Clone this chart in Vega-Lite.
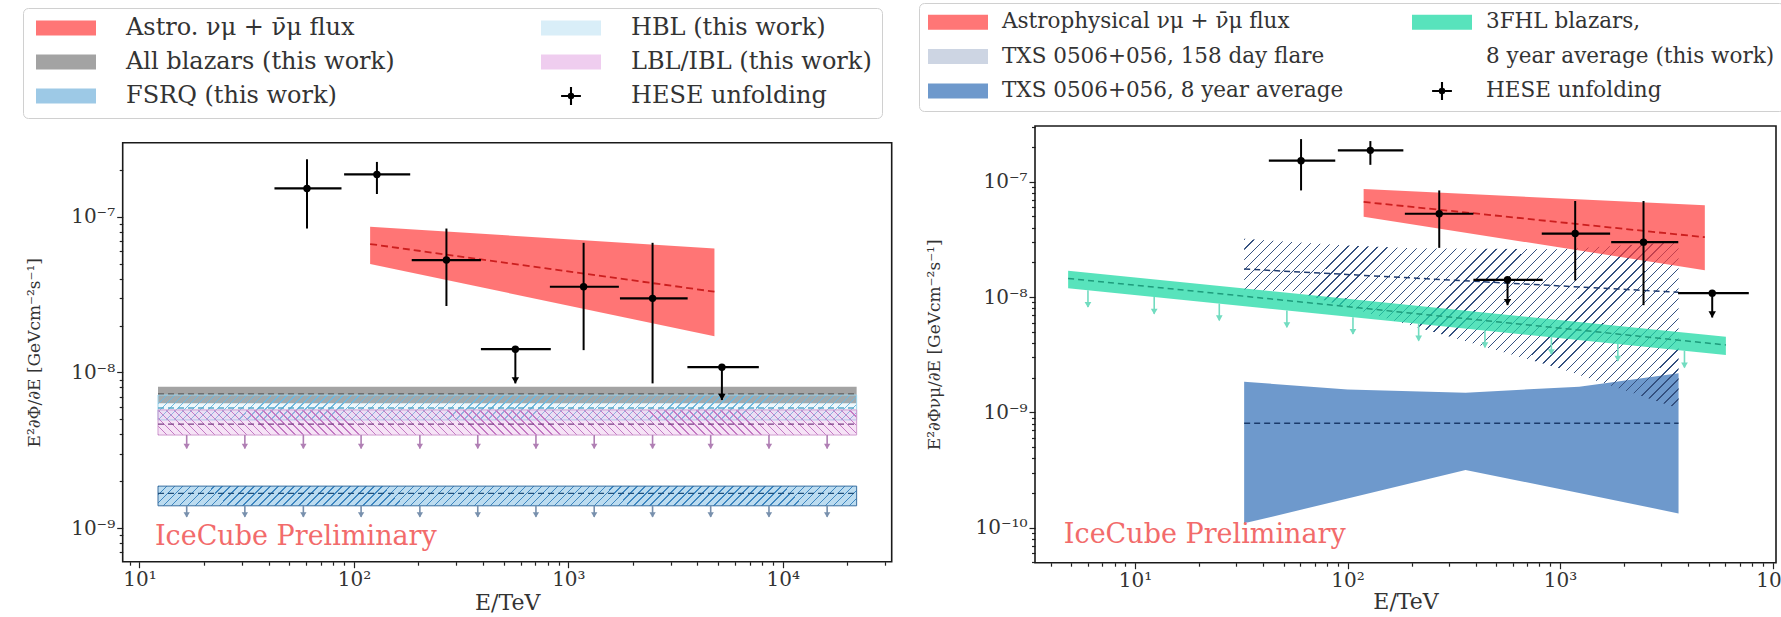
{
  "$schema": "https://vega.github.io/schema/vega-lite/v6.json",
  "background": "white",
  "width": 1781,
  "height": 617,
  "autosize": {"type": "none"},
  "padding": 0,
  "config": {
    "font": "DejaVu Serif",
    "view": {"stroke": null},
    "axis": {"grid": false, "domain": false, "labelFont": "DejaVu Serif", "labelFontSize": 20, "labelColor": "#333333", "titleFont": "DejaVu Serif", "titleFontWeight": "normal", "titleColor": "#333333", "tickColor": "#222222", "tickWidth": 1.2, "labelOverlap": false, "labelFlush": false, "labelPadding": 2}
  },
  "datasets": {
    "hese": [
      {"E": 60.4, "Elo": 42.6, "Ehi": 87.5, "F": 1.52e-7, "Flo": 8.4e-8, "Fhi": 2.34e-7, "ul": false},
      {"E": 128, "Elo": 90, "Ehi": 183, "F": 1.87e-7, "Flo": 1.4e-7, "Fhi": 2.25e-7, "ul": false},
      {"E": 270, "Elo": 186, "Ehi": 391, "F": 5.27e-8, "Flo": 2.67e-8, "Fhi": 8.4e-8, "ul": false},
      {"E": 566, "Elo": 391, "Ehi": 828, "F": 1.41e-8, "Flo": 8.5e-9, "Fhi": 1.41e-8, "ul": true},
      {"E": 1178, "Elo": 820, "Ehi": 1720, "F": 3.55e-8, "Flo": 1.39e-8, "Fhi": 6.8e-8, "ul": false},
      {"E": 2470, "Elo": 1740, "Ehi": 3600, "F": 2.99e-8, "Flo": 8.5e-9, "Fhi": 6.8e-8, "ul": false},
      {"E": 5200, "Elo": 3590, "Ehi": 7730, "F": 1.08e-8, "Flo": 6.65e-9, "Fhi": 1.08e-8, "ul": true}
    ],
    "astro": [
      {"E": 119, "lo": 4.97e-8, "hi": 8.63e-8, "mid": 6.68e-8},
      {"E": 4800, "lo": 1.71e-8, "hi": 6.26e-8, "mid": 3.3e-8}
    ],
    "lbands": [
      {"s": "all", "E": 12.2, "lo": 6.33e-9, "hi": 8.09e-9, "mid": 7.3e-9},
      {"s": "all", "E": 22100, "lo": 6.33e-9, "hi": 8.09e-9, "mid": 7.3e-9},
      {"s": "hbl", "E": 12.2, "lo": 4.95e-9, "hi": 7.16e-9, "mid": 5.9e-9},
      {"s": "hbl", "E": 22100, "lo": 4.95e-9, "hi": 7.16e-9, "mid": 5.9e-9},
      {"s": "lbl", "E": 12.2, "lo": 3.96e-9, "hi": 5.74e-9, "mid": 4.65e-9},
      {"s": "lbl", "E": 22100, "lo": 3.96e-9, "hi": 5.74e-9, "mid": 4.65e-9},
      {"s": "fsrq", "E": 12.2, "lo": 1.39e-9, "hi": 1.86e-9, "mid": 1.67e-9},
      {"s": "fsrq", "E": 22100, "lo": 1.39e-9, "hi": 1.86e-9, "mid": 1.67e-9}
    ],
    "larrows": [
      {"s": "lbl", "E": 16.6, "from": 3.96e-9, "to": 3.25e-9},
      {"s": "lbl", "E": 31.0, "from": 3.96e-9, "to": 3.25e-9},
      {"s": "lbl", "E": 58.1, "from": 3.96e-9, "to": 3.25e-9},
      {"s": "lbl", "E": 108, "from": 3.96e-9, "to": 3.25e-9},
      {"s": "lbl", "E": 203, "from": 3.96e-9, "to": 3.25e-9},
      {"s": "lbl", "E": 378, "from": 3.96e-9, "to": 3.25e-9},
      {"s": "lbl", "E": 706, "from": 3.96e-9, "to": 3.25e-9},
      {"s": "lbl", "E": 1320, "from": 3.96e-9, "to": 3.25e-9},
      {"s": "lbl", "E": 2470, "from": 3.96e-9, "to": 3.25e-9},
      {"s": "lbl", "E": 4610, "from": 3.96e-9, "to": 3.25e-9},
      {"s": "lbl", "E": 8620, "from": 3.96e-9, "to": 3.25e-9},
      {"s": "lbl", "E": 16100, "from": 3.96e-9, "to": 3.25e-9},
      {"s": "fsrq", "E": 16.6, "from": 1.39e-9, "to": 1.18e-9},
      {"s": "fsrq", "E": 31.0, "from": 1.39e-9, "to": 1.18e-9},
      {"s": "fsrq", "E": 58.1, "from": 1.39e-9, "to": 1.18e-9},
      {"s": "fsrq", "E": 108, "from": 1.39e-9, "to": 1.18e-9},
      {"s": "fsrq", "E": 203, "from": 1.39e-9, "to": 1.18e-9},
      {"s": "fsrq", "E": 378, "from": 1.39e-9, "to": 1.18e-9},
      {"s": "fsrq", "E": 706, "from": 1.39e-9, "to": 1.18e-9},
      {"s": "fsrq", "E": 1320, "from": 1.39e-9, "to": 1.18e-9},
      {"s": "fsrq", "E": 2470, "from": 1.39e-9, "to": 1.18e-9},
      {"s": "fsrq", "E": 4610, "from": 1.39e-9, "to": 1.18e-9},
      {"s": "fsrq", "E": 8620, "from": 1.39e-9, "to": 1.18e-9},
      {"s": "fsrq", "E": 16100, "from": 1.39e-9, "to": 1.18e-9}
    ],
    "txs8": [
      {"E": 32.6, "lo": 1.09e-10, "hi": 1.84e-9, "mid": 8.03e-10},
      {"E": 100, "lo": 1.79e-10, "hi": 1.58e-9, "mid": 8.03e-10},
      {"E": 359, "lo": 3.16e-10, "hi": 1.48e-9, "mid": 8.03e-10},
      {"E": 1230, "lo": 2.0e-10, "hi": 1.67e-9, "mid": 8.03e-10},
      {"E": 3610, "lo": 1.33e-10, "hi": 2.18e-9, "mid": 8.03e-10}
    ],
    "flare": [
      {"E": 32.6, "lo": 1.15e-8, "hi": 3.2e-8, "mid": 1.75e-8},
      {"E": 55, "lo": 1.12e-8, "hi": 3.0e-8},
      {"E": 100, "lo": 8.2e-9, "hi": 2.8e-8},
      {"E": 203, "lo": 5.6e-9, "hi": 2.65e-8},
      {"E": 1000, "lo": 2.4e-9, "hi": 2.6e-8},
      {"E": 3610, "lo": 1.08e-9, "hi": 3.0e-8, "mid": 1.1e-8}
    ],
    "fhl": [
      {"E": 4.84, "lo": 1.19e-8, "hi": 1.69e-8, "mid": 1.45e-8},
      {"E": 6030, "lo": 3.14e-9, "hi": 4.53e-9, "mid": 3.84e-9}
    ],
    "fhlarrows": [
      {"E": 6.0, "from": 1.145e-8, "to": 8.2e-9},
      {"E": 12.3, "from": 1.0e-8, "to": 7.17e-9},
      {"E": 24.9, "from": 8.78e-9, "to": 6.29e-9},
      {"E": 51.8, "from": 7.65e-9, "to": 5.48e-9},
      {"E": 106, "from": 6.69e-9, "to": 4.79e-9},
      {"E": 216, "from": 5.86e-9, "to": 4.2e-9},
      {"E": 443, "from": 5.12e-9, "to": 3.67e-9},
      {"E": 910, "from": 4.48e-9, "to": 3.2e-9},
      {"E": 1870, "from": 3.91e-9, "to": 2.8e-9},
      {"E": 3850, "from": 3.42e-9, "to": 2.45e-9}
    ],
    "wmL": [{"E": 11.8, "F": 8.8e-10, "t": "IceCube Preliminary"}],
    "wmR": [{"E": 4.62, "F": 8.6e-11, "t": "IceCube Preliminary"}],
    "leg": [{"k": "none"}]
  },
  "resolve": {
    "scale": {"x": "independent", "y": "independent", "color": "independent", "shape": "independent"},
    "axis": {"x": "independent", "y": "independent"},
    "legend": {"color": "independent", "shape": "independent"}
  },
  "layer": [
    {
      "layer": [
        {
          "data": {"name": "astro"},
          "mark": {"type": "area", "fill": "#ff3b3b", "opacity": 0.7},
          "encoding": {
            "x": {"field": "E", "type": "quantitative",
              "scale": {"type": "log", "domain": [8.35, 32200], "range": [122.7, 891.7], "nice": false, "zero": false},
              "axis": {"orient": "bottom", "offset": -55.3, "title": "E/TeV", "titleFontSize": 22, "titleY": 41, "titleBaseline": "middle",
                "values": [9,10,20,30,40,50,60,70,80,90,100,200,300,400,500,600,700,800,900,1000,2000,3000,4000,5000,6000,7000,8000,9000,10000,20000,30000],
                "labelExpr": "abs(log(datum.value)/LN10 - round(log(datum.value)/LN10)) < 0.01 ? '10' + ['⁻¹⁰','⁻⁹','⁻⁸','⁻⁷','⁻⁶','⁻⁵','⁻⁴','⁻³','⁻²','⁻¹','⁰','¹','²','³','⁴','⁵'][round(log(datum.value)/LN10)+10] : ''",
                "tickSize": {"condition": {"test": "abs(log(datum.value)/LN10 - round(log(datum.value)/LN10)) < 0.01", "value": 6}, "value": 3.5}}},
            "y": {"field": "lo", "type": "quantitative",
              "scale": {"type": "log", "domain": [6.08e-10, 2.99e-7], "range": [561.7, 142.7], "nice": false, "zero": false},
              "axis": {"orient": "left", "offset": -122.7, "title": "E²∂Φ/∂E [GeVcm⁻²s⁻¹]", "titleFontSize": 17, "titleX": -88, "titleBaseline": "middle",
                "values": [7e-10,8e-10,9e-10,1e-9,2e-9,3e-9,4e-9,5e-9,6e-9,7e-9,8e-9,9e-9,1e-8,2e-8,3e-8,4e-8,5e-8,6e-8,7e-8,8e-8,9e-8,1e-7,2e-7],
                "labelExpr": "abs(log(datum.value)/LN10 - round(log(datum.value)/LN10)) < 0.01 ? '10' + ['⁻¹⁰','⁻⁹','⁻⁸','⁻⁷','⁻⁶','⁻⁵','⁻⁴','⁻³','⁻²','⁻¹','⁰','¹','²','³','⁴','⁵'][round(log(datum.value)/LN10)+10] : ''",
                "tickSize": {"condition": {"test": "abs(log(datum.value)/LN10 - round(log(datum.value)/LN10)) < 0.01", "value": 6}, "value": 3.5}}},
            "y2": {"field": "hi"}
          }
        },
        {
          "data": {"name": "astro"},
          "mark": {"type": "line", "color": "#cc1f1f", "strokeDash": [7, 4], "strokeWidth": 1.8},
          "encoding": {"x": {"field": "E", "type": "quantitative"}, "y": {"field": "mid", "type": "quantitative"}}
        },
        {
          "data": {"name": "lbands"},
          "transform": [{"filter": "datum.s === 'all'"}],
          "mark": {"type": "area", "fill": "#a3a3a3", "opacity": 1},
          "encoding": {"x": {"field": "E", "type": "quantitative"}, "y": {"field": "lo", "type": "quantitative"}, "y2": {"field": "hi"}}
        },
        {
          "data": {"name": "lbands"},
          "transform": [{"filter": "datum.s === 'hbl'"}],
          "mark": {"type": "area", "opacity": 1, "stroke": "#9fd3ea", "strokeWidth": 1,
            "fill": {"gradient": "linear", "x1": 0, "y1": 0, "x2": 1.0343, "y2": 0.03684, "stops": [
{"offset":0,"color":"#6fb8de"},{"offset":0.002,"color":"#6fb8de"},{"offset":0.002,"color":"rgba(140,205,235,0.15)"},{"offset":0.01111,"color":"rgba(140,205,235,0.15)"},
{"offset":0.01111,"color":"#6fb8de"},{"offset":0.01311,"color":"#6fb8de"},{"offset":0.01311,"color":"rgba(140,205,235,0.15)"},{"offset":0.02222,"color":"rgba(140,205,235,0.15)"},
{"offset":0.02222,"color":"#6fb8de"},{"offset":0.02422,"color":"#6fb8de"},{"offset":0.02422,"color":"rgba(140,205,235,0.15)"},{"offset":0.03333,"color":"rgba(140,205,235,0.15)"},
{"offset":0.03333,"color":"#6fb8de"},{"offset":0.03533,"color":"#6fb8de"},{"offset":0.03533,"color":"rgba(140,205,235,0.15)"},{"offset":0.04444,"color":"rgba(140,205,235,0.15)"},
{"offset":0.04444,"color":"#6fb8de"},{"offset":0.04644,"color":"#6fb8de"},{"offset":0.04644,"color":"rgba(140,205,235,0.15)"},{"offset":0.05556,"color":"rgba(140,205,235,0.15)"},
{"offset":0.05556,"color":"#6fb8de"},{"offset":0.05756,"color":"#6fb8de"},{"offset":0.05756,"color":"rgba(140,205,235,0.15)"},{"offset":0.06667,"color":"rgba(140,205,235,0.15)"},
{"offset":0.06667,"color":"#6fb8de"},{"offset":0.06867,"color":"#6fb8de"},{"offset":0.06867,"color":"rgba(140,205,235,0.15)"},{"offset":0.07778,"color":"rgba(140,205,235,0.15)"},
{"offset":0.07778,"color":"#6fb8de"},{"offset":0.07978,"color":"#6fb8de"},{"offset":0.07978,"color":"rgba(140,205,235,0.15)"},{"offset":0.08889,"color":"rgba(140,205,235,0.15)"},
{"offset":0.08889,"color":"#6fb8de"},{"offset":0.09089,"color":"#6fb8de"},{"offset":0.09089,"color":"rgba(140,205,235,0.15)"},{"offset":0.1,"color":"rgba(140,205,235,0.15)"},
{"offset":0.1,"color":"#6fb8de"},{"offset":0.102,"color":"#6fb8de"},{"offset":0.102,"color":"rgba(140,205,235,0.15)"},{"offset":0.11111,"color":"rgba(140,205,235,0.15)"},
{"offset":0.11111,"color":"#6fb8de"},{"offset":0.11311,"color":"#6fb8de"},{"offset":0.11311,"color":"rgba(140,205,235,0.15)"},{"offset":0.12222,"color":"rgba(140,205,235,0.15)"},
{"offset":0.12222,"color":"#6fb8de"},{"offset":0.12422,"color":"#6fb8de"},{"offset":0.12422,"color":"rgba(140,205,235,0.15)"},{"offset":0.13333,"color":"rgba(140,205,235,0.15)"},
{"offset":0.13333,"color":"#6fb8de"},{"offset":0.13533,"color":"#6fb8de"},{"offset":0.13533,"color":"rgba(140,205,235,0.15)"},{"offset":0.14444,"color":"rgba(140,205,235,0.15)"},
{"offset":0.14444,"color":"#6fb8de"},{"offset":0.14644,"color":"#6fb8de"},{"offset":0.14644,"color":"rgba(140,205,235,0.15)"},{"offset":0.15556,"color":"rgba(140,205,235,0.15)"},
{"offset":0.15556,"color":"#6fb8de"},{"offset":0.15756,"color":"#6fb8de"},{"offset":0.15756,"color":"rgba(140,205,235,0.15)"},{"offset":0.16667,"color":"rgba(140,205,235,0.15)"},
{"offset":0.16667,"color":"#6fb8de"},{"offset":0.16867,"color":"#6fb8de"},{"offset":0.16867,"color":"rgba(140,205,235,0.15)"},{"offset":0.17778,"color":"rgba(140,205,235,0.15)"},
{"offset":0.17778,"color":"#6fb8de"},{"offset":0.17978,"color":"#6fb8de"},{"offset":0.17978,"color":"rgba(140,205,235,0.15)"},{"offset":0.18889,"color":"rgba(140,205,235,0.15)"},
{"offset":0.18889,"color":"#6fb8de"},{"offset":0.19089,"color":"#6fb8de"},{"offset":0.19089,"color":"rgba(140,205,235,0.15)"},{"offset":0.2,"color":"rgba(140,205,235,0.15)"},
{"offset":0.2,"color":"#6fb8de"},{"offset":0.202,"color":"#6fb8de"},{"offset":0.202,"color":"rgba(140,205,235,0.15)"},{"offset":0.21111,"color":"rgba(140,205,235,0.15)"},
{"offset":0.21111,"color":"#6fb8de"},{"offset":0.21311,"color":"#6fb8de"},{"offset":0.21311,"color":"rgba(140,205,235,0.15)"},{"offset":0.22222,"color":"rgba(140,205,235,0.15)"},
{"offset":0.22222,"color":"#6fb8de"},{"offset":0.22422,"color":"#6fb8de"},{"offset":0.22422,"color":"rgba(140,205,235,0.15)"},{"offset":0.23333,"color":"rgba(140,205,235,0.15)"},
{"offset":0.23333,"color":"#6fb8de"},{"offset":0.23533,"color":"#6fb8de"},{"offset":0.23533,"color":"rgba(140,205,235,0.15)"},{"offset":0.24444,"color":"rgba(140,205,235,0.15)"},
{"offset":0.24444,"color":"#6fb8de"},{"offset":0.24644,"color":"#6fb8de"},{"offset":0.24644,"color":"rgba(140,205,235,0.15)"},{"offset":0.25556,"color":"rgba(140,205,235,0.15)"},
{"offset":0.25556,"color":"#6fb8de"},{"offset":0.25756,"color":"#6fb8de"},{"offset":0.25756,"color":"rgba(140,205,235,0.15)"},{"offset":0.26667,"color":"rgba(140,205,235,0.15)"},
{"offset":0.26667,"color":"#6fb8de"},{"offset":0.26867,"color":"#6fb8de"},{"offset":0.26867,"color":"rgba(140,205,235,0.15)"},{"offset":0.27778,"color":"rgba(140,205,235,0.15)"},
{"offset":0.27778,"color":"#6fb8de"},{"offset":0.27978,"color":"#6fb8de"},{"offset":0.27978,"color":"rgba(140,205,235,0.15)"},{"offset":0.28889,"color":"rgba(140,205,235,0.15)"},
{"offset":0.28889,"color":"#6fb8de"},{"offset":0.29089,"color":"#6fb8de"},{"offset":0.29089,"color":"rgba(140,205,235,0.15)"},{"offset":0.3,"color":"rgba(140,205,235,0.15)"},
{"offset":0.3,"color":"#6fb8de"},{"offset":0.302,"color":"#6fb8de"},{"offset":0.302,"color":"rgba(140,205,235,0.15)"},{"offset":0.31111,"color":"rgba(140,205,235,0.15)"},
{"offset":0.31111,"color":"#6fb8de"},{"offset":0.31311,"color":"#6fb8de"},{"offset":0.31311,"color":"rgba(140,205,235,0.15)"},{"offset":0.32222,"color":"rgba(140,205,235,0.15)"},
{"offset":0.32222,"color":"#6fb8de"},{"offset":0.32422,"color":"#6fb8de"},{"offset":0.32422,"color":"rgba(140,205,235,0.15)"},{"offset":0.33333,"color":"rgba(140,205,235,0.15)"},
{"offset":0.33333,"color":"#6fb8de"},{"offset":0.33533,"color":"#6fb8de"},{"offset":0.33533,"color":"rgba(140,205,235,0.15)"},{"offset":0.34444,"color":"rgba(140,205,235,0.15)"},
{"offset":0.34444,"color":"#6fb8de"},{"offset":0.34644,"color":"#6fb8de"},{"offset":0.34644,"color":"rgba(140,205,235,0.15)"},{"offset":0.35556,"color":"rgba(140,205,235,0.15)"},
{"offset":0.35556,"color":"#6fb8de"},{"offset":0.35756,"color":"#6fb8de"},{"offset":0.35756,"color":"rgba(140,205,235,0.15)"},{"offset":0.36667,"color":"rgba(140,205,235,0.15)"},
{"offset":0.36667,"color":"#6fb8de"},{"offset":0.36867,"color":"#6fb8de"},{"offset":0.36867,"color":"rgba(140,205,235,0.15)"},{"offset":0.37778,"color":"rgba(140,205,235,0.15)"},
{"offset":0.37778,"color":"#6fb8de"},{"offset":0.37978,"color":"#6fb8de"},{"offset":0.37978,"color":"rgba(140,205,235,0.15)"},{"offset":0.38889,"color":"rgba(140,205,235,0.15)"},
{"offset":0.38889,"color":"#6fb8de"},{"offset":0.39089,"color":"#6fb8de"},{"offset":0.39089,"color":"rgba(140,205,235,0.15)"},{"offset":0.4,"color":"rgba(140,205,235,0.15)"},
{"offset":0.4,"color":"#6fb8de"},{"offset":0.402,"color":"#6fb8de"},{"offset":0.402,"color":"rgba(140,205,235,0.15)"},{"offset":0.41111,"color":"rgba(140,205,235,0.15)"},
{"offset":0.41111,"color":"#6fb8de"},{"offset":0.41311,"color":"#6fb8de"},{"offset":0.41311,"color":"rgba(140,205,235,0.15)"},{"offset":0.42222,"color":"rgba(140,205,235,0.15)"},
{"offset":0.42222,"color":"#6fb8de"},{"offset":0.42422,"color":"#6fb8de"},{"offset":0.42422,"color":"rgba(140,205,235,0.15)"},{"offset":0.43333,"color":"rgba(140,205,235,0.15)"},
{"offset":0.43333,"color":"#6fb8de"},{"offset":0.43533,"color":"#6fb8de"},{"offset":0.43533,"color":"rgba(140,205,235,0.15)"},{"offset":0.44444,"color":"rgba(140,205,235,0.15)"},
{"offset":0.44444,"color":"#6fb8de"},{"offset":0.44644,"color":"#6fb8de"},{"offset":0.44644,"color":"rgba(140,205,235,0.15)"},{"offset":0.45556,"color":"rgba(140,205,235,0.15)"},
{"offset":0.45556,"color":"#6fb8de"},{"offset":0.45756,"color":"#6fb8de"},{"offset":0.45756,"color":"rgba(140,205,235,0.15)"},{"offset":0.46667,"color":"rgba(140,205,235,0.15)"},
{"offset":0.46667,"color":"#6fb8de"},{"offset":0.46867,"color":"#6fb8de"},{"offset":0.46867,"color":"rgba(140,205,235,0.15)"},{"offset":0.47778,"color":"rgba(140,205,235,0.15)"},
{"offset":0.47778,"color":"#6fb8de"},{"offset":0.47978,"color":"#6fb8de"},{"offset":0.47978,"color":"rgba(140,205,235,0.15)"},{"offset":0.48889,"color":"rgba(140,205,235,0.15)"},
{"offset":0.48889,"color":"#6fb8de"},{"offset":0.49089,"color":"#6fb8de"},{"offset":0.49089,"color":"rgba(140,205,235,0.15)"},{"offset":0.5,"color":"rgba(140,205,235,0.15)"},
{"offset":0.5,"color":"#6fb8de"},{"offset":0.502,"color":"#6fb8de"},{"offset":0.502,"color":"rgba(140,205,235,0.15)"},{"offset":0.51111,"color":"rgba(140,205,235,0.15)"},
{"offset":0.51111,"color":"#6fb8de"},{"offset":0.51311,"color":"#6fb8de"},{"offset":0.51311,"color":"rgba(140,205,235,0.15)"},{"offset":0.52222,"color":"rgba(140,205,235,0.15)"},
{"offset":0.52222,"color":"#6fb8de"},{"offset":0.52422,"color":"#6fb8de"},{"offset":0.52422,"color":"rgba(140,205,235,0.15)"},{"offset":0.53333,"color":"rgba(140,205,235,0.15)"},
{"offset":0.53333,"color":"#6fb8de"},{"offset":0.53533,"color":"#6fb8de"},{"offset":0.53533,"color":"rgba(140,205,235,0.15)"},{"offset":0.54444,"color":"rgba(140,205,235,0.15)"},
{"offset":0.54444,"color":"#6fb8de"},{"offset":0.54644,"color":"#6fb8de"},{"offset":0.54644,"color":"rgba(140,205,235,0.15)"},{"offset":0.55556,"color":"rgba(140,205,235,0.15)"},
{"offset":0.55556,"color":"#6fb8de"},{"offset":0.55756,"color":"#6fb8de"},{"offset":0.55756,"color":"rgba(140,205,235,0.15)"},{"offset":0.56667,"color":"rgba(140,205,235,0.15)"},
{"offset":0.56667,"color":"#6fb8de"},{"offset":0.56867,"color":"#6fb8de"},{"offset":0.56867,"color":"rgba(140,205,235,0.15)"},{"offset":0.57778,"color":"rgba(140,205,235,0.15)"},
{"offset":0.57778,"color":"#6fb8de"},{"offset":0.57978,"color":"#6fb8de"},{"offset":0.57978,"color":"rgba(140,205,235,0.15)"},{"offset":0.58889,"color":"rgba(140,205,235,0.15)"},
{"offset":0.58889,"color":"#6fb8de"},{"offset":0.59089,"color":"#6fb8de"},{"offset":0.59089,"color":"rgba(140,205,235,0.15)"},{"offset":0.6,"color":"rgba(140,205,235,0.15)"},
{"offset":0.6,"color":"#6fb8de"},{"offset":0.602,"color":"#6fb8de"},{"offset":0.602,"color":"rgba(140,205,235,0.15)"},{"offset":0.61111,"color":"rgba(140,205,235,0.15)"},
{"offset":0.61111,"color":"#6fb8de"},{"offset":0.61311,"color":"#6fb8de"},{"offset":0.61311,"color":"rgba(140,205,235,0.15)"},{"offset":0.62222,"color":"rgba(140,205,235,0.15)"},
{"offset":0.62222,"color":"#6fb8de"},{"offset":0.62422,"color":"#6fb8de"},{"offset":0.62422,"color":"rgba(140,205,235,0.15)"},{"offset":0.63333,"color":"rgba(140,205,235,0.15)"},
{"offset":0.63333,"color":"#6fb8de"},{"offset":0.63533,"color":"#6fb8de"},{"offset":0.63533,"color":"rgba(140,205,235,0.15)"},{"offset":0.64444,"color":"rgba(140,205,235,0.15)"},
{"offset":0.64444,"color":"#6fb8de"},{"offset":0.64644,"color":"#6fb8de"},{"offset":0.64644,"color":"rgba(140,205,235,0.15)"},{"offset":0.65556,"color":"rgba(140,205,235,0.15)"},
{"offset":0.65556,"color":"#6fb8de"},{"offset":0.65756,"color":"#6fb8de"},{"offset":0.65756,"color":"rgba(140,205,235,0.15)"},{"offset":0.66667,"color":"rgba(140,205,235,0.15)"},
{"offset":0.66667,"color":"#6fb8de"},{"offset":0.66867,"color":"#6fb8de"},{"offset":0.66867,"color":"rgba(140,205,235,0.15)"},{"offset":0.67778,"color":"rgba(140,205,235,0.15)"},
{"offset":0.67778,"color":"#6fb8de"},{"offset":0.67978,"color":"#6fb8de"},{"offset":0.67978,"color":"rgba(140,205,235,0.15)"},{"offset":0.68889,"color":"rgba(140,205,235,0.15)"},
{"offset":0.68889,"color":"#6fb8de"},{"offset":0.69089,"color":"#6fb8de"},{"offset":0.69089,"color":"rgba(140,205,235,0.15)"},{"offset":0.7,"color":"rgba(140,205,235,0.15)"},
{"offset":0.7,"color":"#6fb8de"},{"offset":0.702,"color":"#6fb8de"},{"offset":0.702,"color":"rgba(140,205,235,0.15)"},{"offset":0.71111,"color":"rgba(140,205,235,0.15)"},
{"offset":0.71111,"color":"#6fb8de"},{"offset":0.71311,"color":"#6fb8de"},{"offset":0.71311,"color":"rgba(140,205,235,0.15)"},{"offset":0.72222,"color":"rgba(140,205,235,0.15)"},
{"offset":0.72222,"color":"#6fb8de"},{"offset":0.72422,"color":"#6fb8de"},{"offset":0.72422,"color":"rgba(140,205,235,0.15)"},{"offset":0.73333,"color":"rgba(140,205,235,0.15)"},
{"offset":0.73333,"color":"#6fb8de"},{"offset":0.73533,"color":"#6fb8de"},{"offset":0.73533,"color":"rgba(140,205,235,0.15)"},{"offset":0.74444,"color":"rgba(140,205,235,0.15)"},
{"offset":0.74444,"color":"#6fb8de"},{"offset":0.74644,"color":"#6fb8de"},{"offset":0.74644,"color":"rgba(140,205,235,0.15)"},{"offset":0.75556,"color":"rgba(140,205,235,0.15)"},
{"offset":0.75556,"color":"#6fb8de"},{"offset":0.75756,"color":"#6fb8de"},{"offset":0.75756,"color":"rgba(140,205,235,0.15)"},{"offset":0.76667,"color":"rgba(140,205,235,0.15)"},
{"offset":0.76667,"color":"#6fb8de"},{"offset":0.76867,"color":"#6fb8de"},{"offset":0.76867,"color":"rgba(140,205,235,0.15)"},{"offset":0.77778,"color":"rgba(140,205,235,0.15)"},
{"offset":0.77778,"color":"#6fb8de"},{"offset":0.77978,"color":"#6fb8de"},{"offset":0.77978,"color":"rgba(140,205,235,0.15)"},{"offset":0.78889,"color":"rgba(140,205,235,0.15)"},
{"offset":0.78889,"color":"#6fb8de"},{"offset":0.79089,"color":"#6fb8de"},{"offset":0.79089,"color":"rgba(140,205,235,0.15)"},{"offset":0.8,"color":"rgba(140,205,235,0.15)"},
{"offset":0.8,"color":"#6fb8de"},{"offset":0.802,"color":"#6fb8de"},{"offset":0.802,"color":"rgba(140,205,235,0.15)"},{"offset":0.81111,"color":"rgba(140,205,235,0.15)"},
{"offset":0.81111,"color":"#6fb8de"},{"offset":0.81311,"color":"#6fb8de"},{"offset":0.81311,"color":"rgba(140,205,235,0.15)"},{"offset":0.82222,"color":"rgba(140,205,235,0.15)"},
{"offset":0.82222,"color":"#6fb8de"},{"offset":0.82422,"color":"#6fb8de"},{"offset":0.82422,"color":"rgba(140,205,235,0.15)"},{"offset":0.83333,"color":"rgba(140,205,235,0.15)"},
{"offset":0.83333,"color":"#6fb8de"},{"offset":0.83533,"color":"#6fb8de"},{"offset":0.83533,"color":"rgba(140,205,235,0.15)"},{"offset":0.84444,"color":"rgba(140,205,235,0.15)"},
{"offset":0.84444,"color":"#6fb8de"},{"offset":0.84644,"color":"#6fb8de"},{"offset":0.84644,"color":"rgba(140,205,235,0.15)"},{"offset":0.85556,"color":"rgba(140,205,235,0.15)"},
{"offset":0.85556,"color":"#6fb8de"},{"offset":0.85756,"color":"#6fb8de"},{"offset":0.85756,"color":"rgba(140,205,235,0.15)"},{"offset":0.86667,"color":"rgba(140,205,235,0.15)"},
{"offset":0.86667,"color":"#6fb8de"},{"offset":0.86867,"color":"#6fb8de"},{"offset":0.86867,"color":"rgba(140,205,235,0.15)"},{"offset":0.87778,"color":"rgba(140,205,235,0.15)"},
{"offset":0.87778,"color":"#6fb8de"},{"offset":0.87978,"color":"#6fb8de"},{"offset":0.87978,"color":"rgba(140,205,235,0.15)"},{"offset":0.88889,"color":"rgba(140,205,235,0.15)"},
{"offset":0.88889,"color":"#6fb8de"},{"offset":0.89089,"color":"#6fb8de"},{"offset":0.89089,"color":"rgba(140,205,235,0.15)"},{"offset":0.9,"color":"rgba(140,205,235,0.15)"},
{"offset":0.9,"color":"#6fb8de"},{"offset":0.902,"color":"#6fb8de"},{"offset":0.902,"color":"rgba(140,205,235,0.15)"},{"offset":0.91111,"color":"rgba(140,205,235,0.15)"},
{"offset":0.91111,"color":"#6fb8de"},{"offset":0.91311,"color":"#6fb8de"},{"offset":0.91311,"color":"rgba(140,205,235,0.15)"},{"offset":0.92222,"color":"rgba(140,205,235,0.15)"},
{"offset":0.92222,"color":"#6fb8de"},{"offset":0.92422,"color":"#6fb8de"},{"offset":0.92422,"color":"rgba(140,205,235,0.15)"},{"offset":0.93333,"color":"rgba(140,205,235,0.15)"},
{"offset":0.93333,"color":"#6fb8de"},{"offset":0.93533,"color":"#6fb8de"},{"offset":0.93533,"color":"rgba(140,205,235,0.15)"},{"offset":0.94444,"color":"rgba(140,205,235,0.15)"},
{"offset":0.94444,"color":"#6fb8de"},{"offset":0.94644,"color":"#6fb8de"},{"offset":0.94644,"color":"rgba(140,205,235,0.15)"},{"offset":0.95556,"color":"rgba(140,205,235,0.15)"},
{"offset":0.95556,"color":"#6fb8de"},{"offset":0.95756,"color":"#6fb8de"},{"offset":0.95756,"color":"rgba(140,205,235,0.15)"},{"offset":0.96667,"color":"rgba(140,205,235,0.15)"},
{"offset":0.96667,"color":"#6fb8de"},{"offset":0.96867,"color":"#6fb8de"},{"offset":0.96867,"color":"rgba(140,205,235,0.15)"},{"offset":0.97778,"color":"rgba(140,205,235,0.15)"},
{"offset":0.97778,"color":"#6fb8de"},{"offset":0.97978,"color":"#6fb8de"},{"offset":0.97978,"color":"rgba(140,205,235,0.15)"},{"offset":0.98889,"color":"rgba(140,205,235,0.15)"},
{"offset":0.98889,"color":"#6fb8de"},{"offset":0.99089,"color":"#6fb8de"},{"offset":0.99089,"color":"rgba(140,205,235,0.15)"},{"offset":1,"color":"rgba(140,205,235,0.15)"}
            ]}},
          "encoding": {"x": {"field": "E", "type": "quantitative"}, "y": {"field": "lo", "type": "quantitative"}, "y2": {"field": "hi"}}
        },
        {
          "data": {"name": "lbands"},
          "transform": [{"filter": "datum.s === 'lbl'"}],
          "mark": {"type": "area", "opacity": 1, "stroke": "#cf9bcf", "strokeWidth": 1,
            "fill": {"gradient": "linear", "x1": 0, "y1": 1, "x2": 1.0344, "y2": 0.96286, "stops": [
{"offset":0,"color":"#c47ac4"},{"offset":0.002,"color":"#c47ac4"},{"offset":0.002,"color":"rgba(225,160,225,0.3)"},{"offset":0.01111,"color":"rgba(225,160,225,0.3)"},
{"offset":0.01111,"color":"#c47ac4"},{"offset":0.01311,"color":"#c47ac4"},{"offset":0.01311,"color":"rgba(225,160,225,0.3)"},{"offset":0.02222,"color":"rgba(225,160,225,0.3)"},
{"offset":0.02222,"color":"#c47ac4"},{"offset":0.02422,"color":"#c47ac4"},{"offset":0.02422,"color":"rgba(225,160,225,0.3)"},{"offset":0.03333,"color":"rgba(225,160,225,0.3)"},
{"offset":0.03333,"color":"#c47ac4"},{"offset":0.03533,"color":"#c47ac4"},{"offset":0.03533,"color":"rgba(225,160,225,0.3)"},{"offset":0.04444,"color":"rgba(225,160,225,0.3)"},
{"offset":0.04444,"color":"#c47ac4"},{"offset":0.04644,"color":"#c47ac4"},{"offset":0.04644,"color":"rgba(225,160,225,0.3)"},{"offset":0.05556,"color":"rgba(225,160,225,0.3)"},
{"offset":0.05556,"color":"#c47ac4"},{"offset":0.05756,"color":"#c47ac4"},{"offset":0.05756,"color":"rgba(225,160,225,0.3)"},{"offset":0.06667,"color":"rgba(225,160,225,0.3)"},
{"offset":0.06667,"color":"#c47ac4"},{"offset":0.06867,"color":"#c47ac4"},{"offset":0.06867,"color":"rgba(225,160,225,0.3)"},{"offset":0.07778,"color":"rgba(225,160,225,0.3)"},
{"offset":0.07778,"color":"#c47ac4"},{"offset":0.07978,"color":"#c47ac4"},{"offset":0.07978,"color":"rgba(225,160,225,0.3)"},{"offset":0.08889,"color":"rgba(225,160,225,0.3)"},
{"offset":0.08889,"color":"#c47ac4"},{"offset":0.09089,"color":"#c47ac4"},{"offset":0.09089,"color":"rgba(225,160,225,0.3)"},{"offset":0.1,"color":"rgba(225,160,225,0.3)"},
{"offset":0.1,"color":"#c47ac4"},{"offset":0.102,"color":"#c47ac4"},{"offset":0.102,"color":"rgba(225,160,225,0.3)"},{"offset":0.11111,"color":"rgba(225,160,225,0.3)"},
{"offset":0.11111,"color":"#c47ac4"},{"offset":0.11311,"color":"#c47ac4"},{"offset":0.11311,"color":"rgba(225,160,225,0.3)"},{"offset":0.12222,"color":"rgba(225,160,225,0.3)"},
{"offset":0.12222,"color":"#c47ac4"},{"offset":0.12422,"color":"#c47ac4"},{"offset":0.12422,"color":"rgba(225,160,225,0.3)"},{"offset":0.13333,"color":"rgba(225,160,225,0.3)"},
{"offset":0.13333,"color":"#c47ac4"},{"offset":0.13533,"color":"#c47ac4"},{"offset":0.13533,"color":"rgba(225,160,225,0.3)"},{"offset":0.14444,"color":"rgba(225,160,225,0.3)"},
{"offset":0.14444,"color":"#c47ac4"},{"offset":0.14644,"color":"#c47ac4"},{"offset":0.14644,"color":"rgba(225,160,225,0.3)"},{"offset":0.15556,"color":"rgba(225,160,225,0.3)"},
{"offset":0.15556,"color":"#c47ac4"},{"offset":0.15756,"color":"#c47ac4"},{"offset":0.15756,"color":"rgba(225,160,225,0.3)"},{"offset":0.16667,"color":"rgba(225,160,225,0.3)"},
{"offset":0.16667,"color":"#c47ac4"},{"offset":0.16867,"color":"#c47ac4"},{"offset":0.16867,"color":"rgba(225,160,225,0.3)"},{"offset":0.17778,"color":"rgba(225,160,225,0.3)"},
{"offset":0.17778,"color":"#c47ac4"},{"offset":0.17978,"color":"#c47ac4"},{"offset":0.17978,"color":"rgba(225,160,225,0.3)"},{"offset":0.18889,"color":"rgba(225,160,225,0.3)"},
{"offset":0.18889,"color":"#c47ac4"},{"offset":0.19089,"color":"#c47ac4"},{"offset":0.19089,"color":"rgba(225,160,225,0.3)"},{"offset":0.2,"color":"rgba(225,160,225,0.3)"},
{"offset":0.2,"color":"#c47ac4"},{"offset":0.202,"color":"#c47ac4"},{"offset":0.202,"color":"rgba(225,160,225,0.3)"},{"offset":0.21111,"color":"rgba(225,160,225,0.3)"},
{"offset":0.21111,"color":"#c47ac4"},{"offset":0.21311,"color":"#c47ac4"},{"offset":0.21311,"color":"rgba(225,160,225,0.3)"},{"offset":0.22222,"color":"rgba(225,160,225,0.3)"},
{"offset":0.22222,"color":"#c47ac4"},{"offset":0.22422,"color":"#c47ac4"},{"offset":0.22422,"color":"rgba(225,160,225,0.3)"},{"offset":0.23333,"color":"rgba(225,160,225,0.3)"},
{"offset":0.23333,"color":"#c47ac4"},{"offset":0.23533,"color":"#c47ac4"},{"offset":0.23533,"color":"rgba(225,160,225,0.3)"},{"offset":0.24444,"color":"rgba(225,160,225,0.3)"},
{"offset":0.24444,"color":"#c47ac4"},{"offset":0.24644,"color":"#c47ac4"},{"offset":0.24644,"color":"rgba(225,160,225,0.3)"},{"offset":0.25556,"color":"rgba(225,160,225,0.3)"},
{"offset":0.25556,"color":"#c47ac4"},{"offset":0.25756,"color":"#c47ac4"},{"offset":0.25756,"color":"rgba(225,160,225,0.3)"},{"offset":0.26667,"color":"rgba(225,160,225,0.3)"},
{"offset":0.26667,"color":"#c47ac4"},{"offset":0.26867,"color":"#c47ac4"},{"offset":0.26867,"color":"rgba(225,160,225,0.3)"},{"offset":0.27778,"color":"rgba(225,160,225,0.3)"},
{"offset":0.27778,"color":"#c47ac4"},{"offset":0.27978,"color":"#c47ac4"},{"offset":0.27978,"color":"rgba(225,160,225,0.3)"},{"offset":0.28889,"color":"rgba(225,160,225,0.3)"},
{"offset":0.28889,"color":"#c47ac4"},{"offset":0.29089,"color":"#c47ac4"},{"offset":0.29089,"color":"rgba(225,160,225,0.3)"},{"offset":0.3,"color":"rgba(225,160,225,0.3)"},
{"offset":0.3,"color":"#c47ac4"},{"offset":0.302,"color":"#c47ac4"},{"offset":0.302,"color":"rgba(225,160,225,0.3)"},{"offset":0.31111,"color":"rgba(225,160,225,0.3)"},
{"offset":0.31111,"color":"#c47ac4"},{"offset":0.31311,"color":"#c47ac4"},{"offset":0.31311,"color":"rgba(225,160,225,0.3)"},{"offset":0.32222,"color":"rgba(225,160,225,0.3)"},
{"offset":0.32222,"color":"#c47ac4"},{"offset":0.32422,"color":"#c47ac4"},{"offset":0.32422,"color":"rgba(225,160,225,0.3)"},{"offset":0.33333,"color":"rgba(225,160,225,0.3)"},
{"offset":0.33333,"color":"#c47ac4"},{"offset":0.33533,"color":"#c47ac4"},{"offset":0.33533,"color":"rgba(225,160,225,0.3)"},{"offset":0.34444,"color":"rgba(225,160,225,0.3)"},
{"offset":0.34444,"color":"#c47ac4"},{"offset":0.34644,"color":"#c47ac4"},{"offset":0.34644,"color":"rgba(225,160,225,0.3)"},{"offset":0.35556,"color":"rgba(225,160,225,0.3)"},
{"offset":0.35556,"color":"#c47ac4"},{"offset":0.35756,"color":"#c47ac4"},{"offset":0.35756,"color":"rgba(225,160,225,0.3)"},{"offset":0.36667,"color":"rgba(225,160,225,0.3)"},
{"offset":0.36667,"color":"#c47ac4"},{"offset":0.36867,"color":"#c47ac4"},{"offset":0.36867,"color":"rgba(225,160,225,0.3)"},{"offset":0.37778,"color":"rgba(225,160,225,0.3)"},
{"offset":0.37778,"color":"#c47ac4"},{"offset":0.37978,"color":"#c47ac4"},{"offset":0.37978,"color":"rgba(225,160,225,0.3)"},{"offset":0.38889,"color":"rgba(225,160,225,0.3)"},
{"offset":0.38889,"color":"#c47ac4"},{"offset":0.39089,"color":"#c47ac4"},{"offset":0.39089,"color":"rgba(225,160,225,0.3)"},{"offset":0.4,"color":"rgba(225,160,225,0.3)"},
{"offset":0.4,"color":"#c47ac4"},{"offset":0.402,"color":"#c47ac4"},{"offset":0.402,"color":"rgba(225,160,225,0.3)"},{"offset":0.41111,"color":"rgba(225,160,225,0.3)"},
{"offset":0.41111,"color":"#c47ac4"},{"offset":0.41311,"color":"#c47ac4"},{"offset":0.41311,"color":"rgba(225,160,225,0.3)"},{"offset":0.42222,"color":"rgba(225,160,225,0.3)"},
{"offset":0.42222,"color":"#c47ac4"},{"offset":0.42422,"color":"#c47ac4"},{"offset":0.42422,"color":"rgba(225,160,225,0.3)"},{"offset":0.43333,"color":"rgba(225,160,225,0.3)"},
{"offset":0.43333,"color":"#c47ac4"},{"offset":0.43533,"color":"#c47ac4"},{"offset":0.43533,"color":"rgba(225,160,225,0.3)"},{"offset":0.44444,"color":"rgba(225,160,225,0.3)"},
{"offset":0.44444,"color":"#c47ac4"},{"offset":0.44644,"color":"#c47ac4"},{"offset":0.44644,"color":"rgba(225,160,225,0.3)"},{"offset":0.45556,"color":"rgba(225,160,225,0.3)"},
{"offset":0.45556,"color":"#c47ac4"},{"offset":0.45756,"color":"#c47ac4"},{"offset":0.45756,"color":"rgba(225,160,225,0.3)"},{"offset":0.46667,"color":"rgba(225,160,225,0.3)"},
{"offset":0.46667,"color":"#c47ac4"},{"offset":0.46867,"color":"#c47ac4"},{"offset":0.46867,"color":"rgba(225,160,225,0.3)"},{"offset":0.47778,"color":"rgba(225,160,225,0.3)"},
{"offset":0.47778,"color":"#c47ac4"},{"offset":0.47978,"color":"#c47ac4"},{"offset":0.47978,"color":"rgba(225,160,225,0.3)"},{"offset":0.48889,"color":"rgba(225,160,225,0.3)"},
{"offset":0.48889,"color":"#c47ac4"},{"offset":0.49089,"color":"#c47ac4"},{"offset":0.49089,"color":"rgba(225,160,225,0.3)"},{"offset":0.5,"color":"rgba(225,160,225,0.3)"},
{"offset":0.5,"color":"#c47ac4"},{"offset":0.502,"color":"#c47ac4"},{"offset":0.502,"color":"rgba(225,160,225,0.3)"},{"offset":0.51111,"color":"rgba(225,160,225,0.3)"},
{"offset":0.51111,"color":"#c47ac4"},{"offset":0.51311,"color":"#c47ac4"},{"offset":0.51311,"color":"rgba(225,160,225,0.3)"},{"offset":0.52222,"color":"rgba(225,160,225,0.3)"},
{"offset":0.52222,"color":"#c47ac4"},{"offset":0.52422,"color":"#c47ac4"},{"offset":0.52422,"color":"rgba(225,160,225,0.3)"},{"offset":0.53333,"color":"rgba(225,160,225,0.3)"},
{"offset":0.53333,"color":"#c47ac4"},{"offset":0.53533,"color":"#c47ac4"},{"offset":0.53533,"color":"rgba(225,160,225,0.3)"},{"offset":0.54444,"color":"rgba(225,160,225,0.3)"},
{"offset":0.54444,"color":"#c47ac4"},{"offset":0.54644,"color":"#c47ac4"},{"offset":0.54644,"color":"rgba(225,160,225,0.3)"},{"offset":0.55556,"color":"rgba(225,160,225,0.3)"},
{"offset":0.55556,"color":"#c47ac4"},{"offset":0.55756,"color":"#c47ac4"},{"offset":0.55756,"color":"rgba(225,160,225,0.3)"},{"offset":0.56667,"color":"rgba(225,160,225,0.3)"},
{"offset":0.56667,"color":"#c47ac4"},{"offset":0.56867,"color":"#c47ac4"},{"offset":0.56867,"color":"rgba(225,160,225,0.3)"},{"offset":0.57778,"color":"rgba(225,160,225,0.3)"},
{"offset":0.57778,"color":"#c47ac4"},{"offset":0.57978,"color":"#c47ac4"},{"offset":0.57978,"color":"rgba(225,160,225,0.3)"},{"offset":0.58889,"color":"rgba(225,160,225,0.3)"},
{"offset":0.58889,"color":"#c47ac4"},{"offset":0.59089,"color":"#c47ac4"},{"offset":0.59089,"color":"rgba(225,160,225,0.3)"},{"offset":0.6,"color":"rgba(225,160,225,0.3)"},
{"offset":0.6,"color":"#c47ac4"},{"offset":0.602,"color":"#c47ac4"},{"offset":0.602,"color":"rgba(225,160,225,0.3)"},{"offset":0.61111,"color":"rgba(225,160,225,0.3)"},
{"offset":0.61111,"color":"#c47ac4"},{"offset":0.61311,"color":"#c47ac4"},{"offset":0.61311,"color":"rgba(225,160,225,0.3)"},{"offset":0.62222,"color":"rgba(225,160,225,0.3)"},
{"offset":0.62222,"color":"#c47ac4"},{"offset":0.62422,"color":"#c47ac4"},{"offset":0.62422,"color":"rgba(225,160,225,0.3)"},{"offset":0.63333,"color":"rgba(225,160,225,0.3)"},
{"offset":0.63333,"color":"#c47ac4"},{"offset":0.63533,"color":"#c47ac4"},{"offset":0.63533,"color":"rgba(225,160,225,0.3)"},{"offset":0.64444,"color":"rgba(225,160,225,0.3)"},
{"offset":0.64444,"color":"#c47ac4"},{"offset":0.64644,"color":"#c47ac4"},{"offset":0.64644,"color":"rgba(225,160,225,0.3)"},{"offset":0.65556,"color":"rgba(225,160,225,0.3)"},
{"offset":0.65556,"color":"#c47ac4"},{"offset":0.65756,"color":"#c47ac4"},{"offset":0.65756,"color":"rgba(225,160,225,0.3)"},{"offset":0.66667,"color":"rgba(225,160,225,0.3)"},
{"offset":0.66667,"color":"#c47ac4"},{"offset":0.66867,"color":"#c47ac4"},{"offset":0.66867,"color":"rgba(225,160,225,0.3)"},{"offset":0.67778,"color":"rgba(225,160,225,0.3)"},
{"offset":0.67778,"color":"#c47ac4"},{"offset":0.67978,"color":"#c47ac4"},{"offset":0.67978,"color":"rgba(225,160,225,0.3)"},{"offset":0.68889,"color":"rgba(225,160,225,0.3)"},
{"offset":0.68889,"color":"#c47ac4"},{"offset":0.69089,"color":"#c47ac4"},{"offset":0.69089,"color":"rgba(225,160,225,0.3)"},{"offset":0.7,"color":"rgba(225,160,225,0.3)"},
{"offset":0.7,"color":"#c47ac4"},{"offset":0.702,"color":"#c47ac4"},{"offset":0.702,"color":"rgba(225,160,225,0.3)"},{"offset":0.71111,"color":"rgba(225,160,225,0.3)"},
{"offset":0.71111,"color":"#c47ac4"},{"offset":0.71311,"color":"#c47ac4"},{"offset":0.71311,"color":"rgba(225,160,225,0.3)"},{"offset":0.72222,"color":"rgba(225,160,225,0.3)"},
{"offset":0.72222,"color":"#c47ac4"},{"offset":0.72422,"color":"#c47ac4"},{"offset":0.72422,"color":"rgba(225,160,225,0.3)"},{"offset":0.73333,"color":"rgba(225,160,225,0.3)"},
{"offset":0.73333,"color":"#c47ac4"},{"offset":0.73533,"color":"#c47ac4"},{"offset":0.73533,"color":"rgba(225,160,225,0.3)"},{"offset":0.74444,"color":"rgba(225,160,225,0.3)"},
{"offset":0.74444,"color":"#c47ac4"},{"offset":0.74644,"color":"#c47ac4"},{"offset":0.74644,"color":"rgba(225,160,225,0.3)"},{"offset":0.75556,"color":"rgba(225,160,225,0.3)"},
{"offset":0.75556,"color":"#c47ac4"},{"offset":0.75756,"color":"#c47ac4"},{"offset":0.75756,"color":"rgba(225,160,225,0.3)"},{"offset":0.76667,"color":"rgba(225,160,225,0.3)"},
{"offset":0.76667,"color":"#c47ac4"},{"offset":0.76867,"color":"#c47ac4"},{"offset":0.76867,"color":"rgba(225,160,225,0.3)"},{"offset":0.77778,"color":"rgba(225,160,225,0.3)"},
{"offset":0.77778,"color":"#c47ac4"},{"offset":0.77978,"color":"#c47ac4"},{"offset":0.77978,"color":"rgba(225,160,225,0.3)"},{"offset":0.78889,"color":"rgba(225,160,225,0.3)"},
{"offset":0.78889,"color":"#c47ac4"},{"offset":0.79089,"color":"#c47ac4"},{"offset":0.79089,"color":"rgba(225,160,225,0.3)"},{"offset":0.8,"color":"rgba(225,160,225,0.3)"},
{"offset":0.8,"color":"#c47ac4"},{"offset":0.802,"color":"#c47ac4"},{"offset":0.802,"color":"rgba(225,160,225,0.3)"},{"offset":0.81111,"color":"rgba(225,160,225,0.3)"},
{"offset":0.81111,"color":"#c47ac4"},{"offset":0.81311,"color":"#c47ac4"},{"offset":0.81311,"color":"rgba(225,160,225,0.3)"},{"offset":0.82222,"color":"rgba(225,160,225,0.3)"},
{"offset":0.82222,"color":"#c47ac4"},{"offset":0.82422,"color":"#c47ac4"},{"offset":0.82422,"color":"rgba(225,160,225,0.3)"},{"offset":0.83333,"color":"rgba(225,160,225,0.3)"},
{"offset":0.83333,"color":"#c47ac4"},{"offset":0.83533,"color":"#c47ac4"},{"offset":0.83533,"color":"rgba(225,160,225,0.3)"},{"offset":0.84444,"color":"rgba(225,160,225,0.3)"},
{"offset":0.84444,"color":"#c47ac4"},{"offset":0.84644,"color":"#c47ac4"},{"offset":0.84644,"color":"rgba(225,160,225,0.3)"},{"offset":0.85556,"color":"rgba(225,160,225,0.3)"},
{"offset":0.85556,"color":"#c47ac4"},{"offset":0.85756,"color":"#c47ac4"},{"offset":0.85756,"color":"rgba(225,160,225,0.3)"},{"offset":0.86667,"color":"rgba(225,160,225,0.3)"},
{"offset":0.86667,"color":"#c47ac4"},{"offset":0.86867,"color":"#c47ac4"},{"offset":0.86867,"color":"rgba(225,160,225,0.3)"},{"offset":0.87778,"color":"rgba(225,160,225,0.3)"},
{"offset":0.87778,"color":"#c47ac4"},{"offset":0.87978,"color":"#c47ac4"},{"offset":0.87978,"color":"rgba(225,160,225,0.3)"},{"offset":0.88889,"color":"rgba(225,160,225,0.3)"},
{"offset":0.88889,"color":"#c47ac4"},{"offset":0.89089,"color":"#c47ac4"},{"offset":0.89089,"color":"rgba(225,160,225,0.3)"},{"offset":0.9,"color":"rgba(225,160,225,0.3)"},
{"offset":0.9,"color":"#c47ac4"},{"offset":0.902,"color":"#c47ac4"},{"offset":0.902,"color":"rgba(225,160,225,0.3)"},{"offset":0.91111,"color":"rgba(225,160,225,0.3)"},
{"offset":0.91111,"color":"#c47ac4"},{"offset":0.91311,"color":"#c47ac4"},{"offset":0.91311,"color":"rgba(225,160,225,0.3)"},{"offset":0.92222,"color":"rgba(225,160,225,0.3)"},
{"offset":0.92222,"color":"#c47ac4"},{"offset":0.92422,"color":"#c47ac4"},{"offset":0.92422,"color":"rgba(225,160,225,0.3)"},{"offset":0.93333,"color":"rgba(225,160,225,0.3)"},
{"offset":0.93333,"color":"#c47ac4"},{"offset":0.93533,"color":"#c47ac4"},{"offset":0.93533,"color":"rgba(225,160,225,0.3)"},{"offset":0.94444,"color":"rgba(225,160,225,0.3)"},
{"offset":0.94444,"color":"#c47ac4"},{"offset":0.94644,"color":"#c47ac4"},{"offset":0.94644,"color":"rgba(225,160,225,0.3)"},{"offset":0.95556,"color":"rgba(225,160,225,0.3)"},
{"offset":0.95556,"color":"#c47ac4"},{"offset":0.95756,"color":"#c47ac4"},{"offset":0.95756,"color":"rgba(225,160,225,0.3)"},{"offset":0.96667,"color":"rgba(225,160,225,0.3)"},
{"offset":0.96667,"color":"#c47ac4"},{"offset":0.96867,"color":"#c47ac4"},{"offset":0.96867,"color":"rgba(225,160,225,0.3)"},{"offset":0.97778,"color":"rgba(225,160,225,0.3)"},
{"offset":0.97778,"color":"#c47ac4"},{"offset":0.97978,"color":"#c47ac4"},{"offset":0.97978,"color":"rgba(225,160,225,0.3)"},{"offset":0.98889,"color":"rgba(225,160,225,0.3)"},
{"offset":0.98889,"color":"#c47ac4"},{"offset":0.99089,"color":"#c47ac4"},{"offset":0.99089,"color":"rgba(225,160,225,0.3)"},{"offset":1,"color":"rgba(225,160,225,0.3)"}
            ]}},
          "encoding": {"x": {"field": "E", "type": "quantitative"}, "y": {"field": "lo", "type": "quantitative"}, "y2": {"field": "hi"}}
        },
        {
          "data": {"name": "lbands"},
          "transform": [{"filter": "datum.s === 'fsrq'"}],
          "mark": {"type": "area", "opacity": 1, "stroke": "#3a6fa0", "strokeWidth": 1,
            "fill": {"gradient": "linear", "x1": 0, "y1": 0, "x2": 1.0272, "y2": 0.0288, "stops": [
{"offset":0,"color":"#3d86c0"},{"offset":0.002,"color":"#3d86c0"},{"offset":0.002,"color":"#bcdcf0"},{"offset":0.01111,"color":"#bcdcf0"},
{"offset":0.01111,"color":"#3d86c0"},{"offset":0.01311,"color":"#3d86c0"},{"offset":0.01311,"color":"#bcdcf0"},{"offset":0.02222,"color":"#bcdcf0"},
{"offset":0.02222,"color":"#3d86c0"},{"offset":0.02422,"color":"#3d86c0"},{"offset":0.02422,"color":"#bcdcf0"},{"offset":0.03333,"color":"#bcdcf0"},
{"offset":0.03333,"color":"#3d86c0"},{"offset":0.03533,"color":"#3d86c0"},{"offset":0.03533,"color":"#bcdcf0"},{"offset":0.04444,"color":"#bcdcf0"},
{"offset":0.04444,"color":"#3d86c0"},{"offset":0.04644,"color":"#3d86c0"},{"offset":0.04644,"color":"#bcdcf0"},{"offset":0.05556,"color":"#bcdcf0"},
{"offset":0.05556,"color":"#3d86c0"},{"offset":0.05756,"color":"#3d86c0"},{"offset":0.05756,"color":"#bcdcf0"},{"offset":0.06667,"color":"#bcdcf0"},
{"offset":0.06667,"color":"#3d86c0"},{"offset":0.06867,"color":"#3d86c0"},{"offset":0.06867,"color":"#bcdcf0"},{"offset":0.07778,"color":"#bcdcf0"},
{"offset":0.07778,"color":"#3d86c0"},{"offset":0.07978,"color":"#3d86c0"},{"offset":0.07978,"color":"#bcdcf0"},{"offset":0.08889,"color":"#bcdcf0"},
{"offset":0.08889,"color":"#3d86c0"},{"offset":0.09089,"color":"#3d86c0"},{"offset":0.09089,"color":"#bcdcf0"},{"offset":0.1,"color":"#bcdcf0"},
{"offset":0.1,"color":"#3d86c0"},{"offset":0.102,"color":"#3d86c0"},{"offset":0.102,"color":"#bcdcf0"},{"offset":0.11111,"color":"#bcdcf0"},
{"offset":0.11111,"color":"#3d86c0"},{"offset":0.11311,"color":"#3d86c0"},{"offset":0.11311,"color":"#bcdcf0"},{"offset":0.12222,"color":"#bcdcf0"},
{"offset":0.12222,"color":"#3d86c0"},{"offset":0.12422,"color":"#3d86c0"},{"offset":0.12422,"color":"#bcdcf0"},{"offset":0.13333,"color":"#bcdcf0"},
{"offset":0.13333,"color":"#3d86c0"},{"offset":0.13533,"color":"#3d86c0"},{"offset":0.13533,"color":"#bcdcf0"},{"offset":0.14444,"color":"#bcdcf0"},
{"offset":0.14444,"color":"#3d86c0"},{"offset":0.14644,"color":"#3d86c0"},{"offset":0.14644,"color":"#bcdcf0"},{"offset":0.15556,"color":"#bcdcf0"},
{"offset":0.15556,"color":"#3d86c0"},{"offset":0.15756,"color":"#3d86c0"},{"offset":0.15756,"color":"#bcdcf0"},{"offset":0.16667,"color":"#bcdcf0"},
{"offset":0.16667,"color":"#3d86c0"},{"offset":0.16867,"color":"#3d86c0"},{"offset":0.16867,"color":"#bcdcf0"},{"offset":0.17778,"color":"#bcdcf0"},
{"offset":0.17778,"color":"#3d86c0"},{"offset":0.17978,"color":"#3d86c0"},{"offset":0.17978,"color":"#bcdcf0"},{"offset":0.18889,"color":"#bcdcf0"},
{"offset":0.18889,"color":"#3d86c0"},{"offset":0.19089,"color":"#3d86c0"},{"offset":0.19089,"color":"#bcdcf0"},{"offset":0.2,"color":"#bcdcf0"},
{"offset":0.2,"color":"#3d86c0"},{"offset":0.202,"color":"#3d86c0"},{"offset":0.202,"color":"#bcdcf0"},{"offset":0.21111,"color":"#bcdcf0"},
{"offset":0.21111,"color":"#3d86c0"},{"offset":0.21311,"color":"#3d86c0"},{"offset":0.21311,"color":"#bcdcf0"},{"offset":0.22222,"color":"#bcdcf0"},
{"offset":0.22222,"color":"#3d86c0"},{"offset":0.22422,"color":"#3d86c0"},{"offset":0.22422,"color":"#bcdcf0"},{"offset":0.23333,"color":"#bcdcf0"},
{"offset":0.23333,"color":"#3d86c0"},{"offset":0.23533,"color":"#3d86c0"},{"offset":0.23533,"color":"#bcdcf0"},{"offset":0.24444,"color":"#bcdcf0"},
{"offset":0.24444,"color":"#3d86c0"},{"offset":0.24644,"color":"#3d86c0"},{"offset":0.24644,"color":"#bcdcf0"},{"offset":0.25556,"color":"#bcdcf0"},
{"offset":0.25556,"color":"#3d86c0"},{"offset":0.25756,"color":"#3d86c0"},{"offset":0.25756,"color":"#bcdcf0"},{"offset":0.26667,"color":"#bcdcf0"},
{"offset":0.26667,"color":"#3d86c0"},{"offset":0.26867,"color":"#3d86c0"},{"offset":0.26867,"color":"#bcdcf0"},{"offset":0.27778,"color":"#bcdcf0"},
{"offset":0.27778,"color":"#3d86c0"},{"offset":0.27978,"color":"#3d86c0"},{"offset":0.27978,"color":"#bcdcf0"},{"offset":0.28889,"color":"#bcdcf0"},
{"offset":0.28889,"color":"#3d86c0"},{"offset":0.29089,"color":"#3d86c0"},{"offset":0.29089,"color":"#bcdcf0"},{"offset":0.3,"color":"#bcdcf0"},
{"offset":0.3,"color":"#3d86c0"},{"offset":0.302,"color":"#3d86c0"},{"offset":0.302,"color":"#bcdcf0"},{"offset":0.31111,"color":"#bcdcf0"},
{"offset":0.31111,"color":"#3d86c0"},{"offset":0.31311,"color":"#3d86c0"},{"offset":0.31311,"color":"#bcdcf0"},{"offset":0.32222,"color":"#bcdcf0"},
{"offset":0.32222,"color":"#3d86c0"},{"offset":0.32422,"color":"#3d86c0"},{"offset":0.32422,"color":"#bcdcf0"},{"offset":0.33333,"color":"#bcdcf0"},
{"offset":0.33333,"color":"#3d86c0"},{"offset":0.33533,"color":"#3d86c0"},{"offset":0.33533,"color":"#bcdcf0"},{"offset":0.34444,"color":"#bcdcf0"},
{"offset":0.34444,"color":"#3d86c0"},{"offset":0.34644,"color":"#3d86c0"},{"offset":0.34644,"color":"#bcdcf0"},{"offset":0.35556,"color":"#bcdcf0"},
{"offset":0.35556,"color":"#3d86c0"},{"offset":0.35756,"color":"#3d86c0"},{"offset":0.35756,"color":"#bcdcf0"},{"offset":0.36667,"color":"#bcdcf0"},
{"offset":0.36667,"color":"#3d86c0"},{"offset":0.36867,"color":"#3d86c0"},{"offset":0.36867,"color":"#bcdcf0"},{"offset":0.37778,"color":"#bcdcf0"},
{"offset":0.37778,"color":"#3d86c0"},{"offset":0.37978,"color":"#3d86c0"},{"offset":0.37978,"color":"#bcdcf0"},{"offset":0.38889,"color":"#bcdcf0"},
{"offset":0.38889,"color":"#3d86c0"},{"offset":0.39089,"color":"#3d86c0"},{"offset":0.39089,"color":"#bcdcf0"},{"offset":0.4,"color":"#bcdcf0"},
{"offset":0.4,"color":"#3d86c0"},{"offset":0.402,"color":"#3d86c0"},{"offset":0.402,"color":"#bcdcf0"},{"offset":0.41111,"color":"#bcdcf0"},
{"offset":0.41111,"color":"#3d86c0"},{"offset":0.41311,"color":"#3d86c0"},{"offset":0.41311,"color":"#bcdcf0"},{"offset":0.42222,"color":"#bcdcf0"},
{"offset":0.42222,"color":"#3d86c0"},{"offset":0.42422,"color":"#3d86c0"},{"offset":0.42422,"color":"#bcdcf0"},{"offset":0.43333,"color":"#bcdcf0"},
{"offset":0.43333,"color":"#3d86c0"},{"offset":0.43533,"color":"#3d86c0"},{"offset":0.43533,"color":"#bcdcf0"},{"offset":0.44444,"color":"#bcdcf0"},
{"offset":0.44444,"color":"#3d86c0"},{"offset":0.44644,"color":"#3d86c0"},{"offset":0.44644,"color":"#bcdcf0"},{"offset":0.45556,"color":"#bcdcf0"},
{"offset":0.45556,"color":"#3d86c0"},{"offset":0.45756,"color":"#3d86c0"},{"offset":0.45756,"color":"#bcdcf0"},{"offset":0.46667,"color":"#bcdcf0"},
{"offset":0.46667,"color":"#3d86c0"},{"offset":0.46867,"color":"#3d86c0"},{"offset":0.46867,"color":"#bcdcf0"},{"offset":0.47778,"color":"#bcdcf0"},
{"offset":0.47778,"color":"#3d86c0"},{"offset":0.47978,"color":"#3d86c0"},{"offset":0.47978,"color":"#bcdcf0"},{"offset":0.48889,"color":"#bcdcf0"},
{"offset":0.48889,"color":"#3d86c0"},{"offset":0.49089,"color":"#3d86c0"},{"offset":0.49089,"color":"#bcdcf0"},{"offset":0.5,"color":"#bcdcf0"},
{"offset":0.5,"color":"#3d86c0"},{"offset":0.502,"color":"#3d86c0"},{"offset":0.502,"color":"#bcdcf0"},{"offset":0.51111,"color":"#bcdcf0"},
{"offset":0.51111,"color":"#3d86c0"},{"offset":0.51311,"color":"#3d86c0"},{"offset":0.51311,"color":"#bcdcf0"},{"offset":0.52222,"color":"#bcdcf0"},
{"offset":0.52222,"color":"#3d86c0"},{"offset":0.52422,"color":"#3d86c0"},{"offset":0.52422,"color":"#bcdcf0"},{"offset":0.53333,"color":"#bcdcf0"},
{"offset":0.53333,"color":"#3d86c0"},{"offset":0.53533,"color":"#3d86c0"},{"offset":0.53533,"color":"#bcdcf0"},{"offset":0.54444,"color":"#bcdcf0"},
{"offset":0.54444,"color":"#3d86c0"},{"offset":0.54644,"color":"#3d86c0"},{"offset":0.54644,"color":"#bcdcf0"},{"offset":0.55556,"color":"#bcdcf0"},
{"offset":0.55556,"color":"#3d86c0"},{"offset":0.55756,"color":"#3d86c0"},{"offset":0.55756,"color":"#bcdcf0"},{"offset":0.56667,"color":"#bcdcf0"},
{"offset":0.56667,"color":"#3d86c0"},{"offset":0.56867,"color":"#3d86c0"},{"offset":0.56867,"color":"#bcdcf0"},{"offset":0.57778,"color":"#bcdcf0"},
{"offset":0.57778,"color":"#3d86c0"},{"offset":0.57978,"color":"#3d86c0"},{"offset":0.57978,"color":"#bcdcf0"},{"offset":0.58889,"color":"#bcdcf0"},
{"offset":0.58889,"color":"#3d86c0"},{"offset":0.59089,"color":"#3d86c0"},{"offset":0.59089,"color":"#bcdcf0"},{"offset":0.6,"color":"#bcdcf0"},
{"offset":0.6,"color":"#3d86c0"},{"offset":0.602,"color":"#3d86c0"},{"offset":0.602,"color":"#bcdcf0"},{"offset":0.61111,"color":"#bcdcf0"},
{"offset":0.61111,"color":"#3d86c0"},{"offset":0.61311,"color":"#3d86c0"},{"offset":0.61311,"color":"#bcdcf0"},{"offset":0.62222,"color":"#bcdcf0"},
{"offset":0.62222,"color":"#3d86c0"},{"offset":0.62422,"color":"#3d86c0"},{"offset":0.62422,"color":"#bcdcf0"},{"offset":0.63333,"color":"#bcdcf0"},
{"offset":0.63333,"color":"#3d86c0"},{"offset":0.63533,"color":"#3d86c0"},{"offset":0.63533,"color":"#bcdcf0"},{"offset":0.64444,"color":"#bcdcf0"},
{"offset":0.64444,"color":"#3d86c0"},{"offset":0.64644,"color":"#3d86c0"},{"offset":0.64644,"color":"#bcdcf0"},{"offset":0.65556,"color":"#bcdcf0"},
{"offset":0.65556,"color":"#3d86c0"},{"offset":0.65756,"color":"#3d86c0"},{"offset":0.65756,"color":"#bcdcf0"},{"offset":0.66667,"color":"#bcdcf0"},
{"offset":0.66667,"color":"#3d86c0"},{"offset":0.66867,"color":"#3d86c0"},{"offset":0.66867,"color":"#bcdcf0"},{"offset":0.67778,"color":"#bcdcf0"},
{"offset":0.67778,"color":"#3d86c0"},{"offset":0.67978,"color":"#3d86c0"},{"offset":0.67978,"color":"#bcdcf0"},{"offset":0.68889,"color":"#bcdcf0"},
{"offset":0.68889,"color":"#3d86c0"},{"offset":0.69089,"color":"#3d86c0"},{"offset":0.69089,"color":"#bcdcf0"},{"offset":0.7,"color":"#bcdcf0"},
{"offset":0.7,"color":"#3d86c0"},{"offset":0.702,"color":"#3d86c0"},{"offset":0.702,"color":"#bcdcf0"},{"offset":0.71111,"color":"#bcdcf0"},
{"offset":0.71111,"color":"#3d86c0"},{"offset":0.71311,"color":"#3d86c0"},{"offset":0.71311,"color":"#bcdcf0"},{"offset":0.72222,"color":"#bcdcf0"},
{"offset":0.72222,"color":"#3d86c0"},{"offset":0.72422,"color":"#3d86c0"},{"offset":0.72422,"color":"#bcdcf0"},{"offset":0.73333,"color":"#bcdcf0"},
{"offset":0.73333,"color":"#3d86c0"},{"offset":0.73533,"color":"#3d86c0"},{"offset":0.73533,"color":"#bcdcf0"},{"offset":0.74444,"color":"#bcdcf0"},
{"offset":0.74444,"color":"#3d86c0"},{"offset":0.74644,"color":"#3d86c0"},{"offset":0.74644,"color":"#bcdcf0"},{"offset":0.75556,"color":"#bcdcf0"},
{"offset":0.75556,"color":"#3d86c0"},{"offset":0.75756,"color":"#3d86c0"},{"offset":0.75756,"color":"#bcdcf0"},{"offset":0.76667,"color":"#bcdcf0"},
{"offset":0.76667,"color":"#3d86c0"},{"offset":0.76867,"color":"#3d86c0"},{"offset":0.76867,"color":"#bcdcf0"},{"offset":0.77778,"color":"#bcdcf0"},
{"offset":0.77778,"color":"#3d86c0"},{"offset":0.77978,"color":"#3d86c0"},{"offset":0.77978,"color":"#bcdcf0"},{"offset":0.78889,"color":"#bcdcf0"},
{"offset":0.78889,"color":"#3d86c0"},{"offset":0.79089,"color":"#3d86c0"},{"offset":0.79089,"color":"#bcdcf0"},{"offset":0.8,"color":"#bcdcf0"},
{"offset":0.8,"color":"#3d86c0"},{"offset":0.802,"color":"#3d86c0"},{"offset":0.802,"color":"#bcdcf0"},{"offset":0.81111,"color":"#bcdcf0"},
{"offset":0.81111,"color":"#3d86c0"},{"offset":0.81311,"color":"#3d86c0"},{"offset":0.81311,"color":"#bcdcf0"},{"offset":0.82222,"color":"#bcdcf0"},
{"offset":0.82222,"color":"#3d86c0"},{"offset":0.82422,"color":"#3d86c0"},{"offset":0.82422,"color":"#bcdcf0"},{"offset":0.83333,"color":"#bcdcf0"},
{"offset":0.83333,"color":"#3d86c0"},{"offset":0.83533,"color":"#3d86c0"},{"offset":0.83533,"color":"#bcdcf0"},{"offset":0.84444,"color":"#bcdcf0"},
{"offset":0.84444,"color":"#3d86c0"},{"offset":0.84644,"color":"#3d86c0"},{"offset":0.84644,"color":"#bcdcf0"},{"offset":0.85556,"color":"#bcdcf0"},
{"offset":0.85556,"color":"#3d86c0"},{"offset":0.85756,"color":"#3d86c0"},{"offset":0.85756,"color":"#bcdcf0"},{"offset":0.86667,"color":"#bcdcf0"},
{"offset":0.86667,"color":"#3d86c0"},{"offset":0.86867,"color":"#3d86c0"},{"offset":0.86867,"color":"#bcdcf0"},{"offset":0.87778,"color":"#bcdcf0"},
{"offset":0.87778,"color":"#3d86c0"},{"offset":0.87978,"color":"#3d86c0"},{"offset":0.87978,"color":"#bcdcf0"},{"offset":0.88889,"color":"#bcdcf0"},
{"offset":0.88889,"color":"#3d86c0"},{"offset":0.89089,"color":"#3d86c0"},{"offset":0.89089,"color":"#bcdcf0"},{"offset":0.9,"color":"#bcdcf0"},
{"offset":0.9,"color":"#3d86c0"},{"offset":0.902,"color":"#3d86c0"},{"offset":0.902,"color":"#bcdcf0"},{"offset":0.91111,"color":"#bcdcf0"},
{"offset":0.91111,"color":"#3d86c0"},{"offset":0.91311,"color":"#3d86c0"},{"offset":0.91311,"color":"#bcdcf0"},{"offset":0.92222,"color":"#bcdcf0"},
{"offset":0.92222,"color":"#3d86c0"},{"offset":0.92422,"color":"#3d86c0"},{"offset":0.92422,"color":"#bcdcf0"},{"offset":0.93333,"color":"#bcdcf0"},
{"offset":0.93333,"color":"#3d86c0"},{"offset":0.93533,"color":"#3d86c0"},{"offset":0.93533,"color":"#bcdcf0"},{"offset":0.94444,"color":"#bcdcf0"},
{"offset":0.94444,"color":"#3d86c0"},{"offset":0.94644,"color":"#3d86c0"},{"offset":0.94644,"color":"#bcdcf0"},{"offset":0.95556,"color":"#bcdcf0"},
{"offset":0.95556,"color":"#3d86c0"},{"offset":0.95756,"color":"#3d86c0"},{"offset":0.95756,"color":"#bcdcf0"},{"offset":0.96667,"color":"#bcdcf0"},
{"offset":0.96667,"color":"#3d86c0"},{"offset":0.96867,"color":"#3d86c0"},{"offset":0.96867,"color":"#bcdcf0"},{"offset":0.97778,"color":"#bcdcf0"},
{"offset":0.97778,"color":"#3d86c0"},{"offset":0.97978,"color":"#3d86c0"},{"offset":0.97978,"color":"#bcdcf0"},{"offset":0.98889,"color":"#bcdcf0"},
{"offset":0.98889,"color":"#3d86c0"},{"offset":0.99089,"color":"#3d86c0"},{"offset":0.99089,"color":"#bcdcf0"},{"offset":1,"color":"#bcdcf0"}
            ]}},
          "encoding": {"x": {"field": "E", "type": "quantitative"}, "y": {"field": "lo", "type": "quantitative"}, "y2": {"field": "hi"}}
        },
        {
          "data": {"name": "lbands"},
          "transform": [{"filter": "datum.s === 'all'"}],
          "mark": {"type": "line", "color": "#6f6f6f", "strokeDash": [6, 4], "strokeWidth": 1.4},
          "encoding": {"x": {"field": "E", "type": "quantitative"}, "y": {"field": "mid", "type": "quantitative"}}
        },
        {
          "data": {"name": "lbands"},
          "transform": [{"filter": "datum.s === 'hbl'"}],
          "mark": {"type": "line", "color": "#5aa9c9", "strokeDash": [6, 4], "strokeWidth": 1.4},
          "encoding": {"x": {"field": "E", "type": "quantitative"}, "y": {"field": "mid", "type": "quantitative"}}
        },
        {
          "data": {"name": "lbands"},
          "transform": [{"filter": "datum.s === 'lbl'"}],
          "mark": {"type": "line", "color": "#7a3f86", "strokeDash": [6, 4], "strokeWidth": 1.4},
          "encoding": {"x": {"field": "E", "type": "quantitative"}, "y": {"field": "mid", "type": "quantitative"}}
        },
        {
          "data": {"name": "lbands"},
          "transform": [{"filter": "datum.s === 'fsrq'"}],
          "mark": {"type": "line", "color": "#1f4e79", "strokeDash": [6, 4], "strokeWidth": 1.4},
          "encoding": {"x": {"field": "E", "type": "quantitative"}, "y": {"field": "mid", "type": "quantitative"}}
        },
        {
          "data": {"name": "larrows"},
          "transform": [{"filter": "datum.s === 'lbl'"}],
          "mark": {"type": "rule", "color": "#b07fb4", "strokeWidth": 1.6},
          "encoding": {"x": {"field": "E", "type": "quantitative"}, "y": {"field": "from", "type": "quantitative"}, "y2": {"field": "to"}}
        },
        {
          "data": {"name": "larrows"},
          "transform": [{"filter": "datum.s === 'lbl'"}],
          "mark": {"type": "point", "shape": "triangle-down", "filled": true, "color": "#b07fb4", "size": 40, "opacity": 1, "yOffset": -2},
          "encoding": {"x": {"field": "E", "type": "quantitative"}, "y": {"field": "to", "type": "quantitative"}}
        },
        {
          "data": {"name": "larrows"},
          "transform": [{"filter": "datum.s === 'fsrq'"}],
          "mark": {"type": "rule", "color": "#7890ad", "strokeWidth": 1.6},
          "encoding": {"x": {"field": "E", "type": "quantitative"}, "y": {"field": "from", "type": "quantitative"}, "y2": {"field": "to"}}
        },
        {
          "data": {"name": "larrows"},
          "transform": [{"filter": "datum.s === 'fsrq'"}],
          "mark": {"type": "point", "shape": "triangle-down", "filled": true, "color": "#7890ad", "size": 40, "opacity": 1, "yOffset": -2},
          "encoding": {"x": {"field": "E", "type": "quantitative"}, "y": {"field": "to", "type": "quantitative"}}
        },
        {
          "data": {"name": "hese"},
          "mark": {"type": "rule", "color": "black", "strokeWidth": 2},
          "encoding": {"x": {"field": "E", "type": "quantitative"}, "y": {"field": "Flo", "type": "quantitative"}, "y2": {"field": "Fhi"}}
        },
        {
          "data": {"name": "hese"},
          "mark": {"type": "rule", "color": "black", "strokeWidth": 2.2},
          "encoding": {"x": {"field": "Elo", "type": "quantitative"}, "x2": {"field": "Ehi"}, "y": {"field": "F", "type": "quantitative"}}
        },
        {
          "data": {"name": "hese"},
          "mark": {"type": "point", "shape": "circle", "filled": true, "color": "black", "size": 55, "opacity": 1},
          "encoding": {"x": {"field": "E", "type": "quantitative"}, "y": {"field": "F", "type": "quantitative"}}
        },
        {
          "data": {"name": "hese"},
          "transform": [{"filter": "datum.ul"}],
          "mark": {"type": "point", "shape": "triangle-down", "filled": true, "color": "black", "size": 55, "opacity": 1, "yOffset": -3},
          "encoding": {"x": {"field": "E", "type": "quantitative"}, "y": {"field": "Flo", "type": "quantitative"}}
        },
        {
          "data": {"name": "wmL"},
          "mark": {"type": "text", "align": "left", "baseline": "middle", "font": "DejaVu Serif", "fontSize": 27, "color": "#f26b6b"},
          "encoding": {"x": {"field": "E", "type": "quantitative"}, "y": {"field": "F", "type": "quantitative"}, "text": {"field": "t"}}
        },
        {
          "data": {"name": "leg"},
          "mark": {"type": "rect", "fill": "transparent", "stroke": "#1a1a1a", "strokeWidth": 1.6},
          "encoding": {"x": {"datum": 8.35, "type": "quantitative"}, "x2": {"datum": 32200}, "y": {"datum": 6.08e-10, "type": "quantitative"}, "y2": {"datum": 2.99e-7}}
        },
        {
          "data": {"name": "leg"},
          "transform": [{"filter": "false"}],
          "mark": {"type": "point", "filled": true, "opacity": 1, "size": 3600},
          "encoding": {
            "color": {"field": "k", "type": "nominal",
              "scale": {"domain": ["Astro. νμ + ν̄μ flux", "All blazars (this work)", "FSRQ (this work)", "HBL (this work)", "LBL/IBL (this work)", "HESE unfolding"],
                "range": ["#ff7676", "#a3a3a3", "#9dc9e6", "#d9eef8", "#efcdef", "black"]},
              "legend": {"title": null, "orient": "none", "legendX": 23, "legendY": 8, "columns": 2, "clipHeight": 20, "symbolSize": 3600, "symbolStrokeWidth": 0, "symbolOffset": 3, "labelOffset": 30, "labelFont": "DejaVu Serif", "labelFontSize": 24, "labelColor": "#333333", "labelLimit": 500, "rowPadding": 10, "columnPadding": 143, "padding": 10, "strokeColor": "#d0d0d0", "fillColor": "white", "cornerRadius": 5}},
            "shape": {"field": "k", "type": "nominal",
              "scale": {"domain": ["Astro. νμ + ν̄μ flux", "All blazars (this work)", "FSRQ (this work)", "HBL (this work)", "LBL/IBL (this work)", "HESE unfolding"],
                "range": ["M-1,-0.25H1V0.25H-1Z", "M-1,-0.25H1V0.25H-1Z", "M-1,-0.25H1V0.25H-1Z", "M-1,-0.25H1V0.25H-1Z", "M-1,-0.25H1V0.25H-1Z", "M-0.33,-0.035H0.33V0.035H-0.33Z M-0.035,-0.3H0.035V0.3H-0.035Z M-0.12,0L-0.085,-0.085L0,-0.12L0.085,-0.085L0.12,0L0.085,0.085L0,0.12L-0.085,0.085Z"]},
              "legend": {"title": null, "orient": "none", "legendX": 23, "legendY": 8, "columns": 2, "clipHeight": 20, "symbolSize": 3600, "symbolStrokeWidth": 0, "symbolOffset": 3, "labelOffset": 30, "labelFont": "DejaVu Serif", "labelFontSize": 24, "labelColor": "#333333", "labelLimit": 500, "rowPadding": 10, "columnPadding": 143, "padding": 10, "strokeColor": "#d0d0d0", "fillColor": "white", "cornerRadius": 5}}
          }
        }
      ]
    },
    {
      "layer": [
        {
          "data": {"name": "txs8"},
          "mark": {"type": "area", "fill": "#4a7fbf", "opacity": 0.8},
          "encoding": {
            "x": {"field": "E", "type": "quantitative",
              "scale": {"type": "log", "domain": [3.38, 10380], "range": [1035, 1776], "nice": false, "zero": false},
              "axis": {"orient": "bottom", "offset": -54.3, "title": "E/TeV", "titleFontSize": 22, "titleY": 39, "titleBaseline": "middle",
                "values": [4,5,6,7,8,9,10,20,30,40,50,60,70,80,90,100,200,300,400,500,600,700,800,900,1000,2000,3000,4000,5000,6000,7000,8000,9000,10000],
                "labelExpr": "abs(log(datum.value)/LN10 - round(log(datum.value)/LN10)) < 0.01 ? '10' + ['⁻¹⁰','⁻⁹','⁻⁸','⁻⁷','⁻⁶','⁻⁵','⁻⁴','⁻³','⁻²','⁻¹','⁰','¹','²','³','⁴','⁵'][round(log(datum.value)/LN10)+10] : ''",
                "tickSize": {"condition": {"test": "abs(log(datum.value)/LN10 - round(log(datum.value)/LN10)) < 0.01", "value": 6}, "value": 3.5}}},
            "y": {"field": "lo", "type": "quantitative",
              "scale": {"type": "log", "domain": [4.97e-11, 3.04e-7], "range": [562.7, 126], "nice": false, "zero": false},
              "axis": {"orient": "left", "offset": -1035, "title": "E²∂Φνμ/∂E [GeVcm⁻²s⁻¹]", "titleFontSize": 17, "titleX": -101, "titleBaseline": "middle",
                "values": [5e-11,6e-11,7e-11,8e-11,9e-11,1e-10,2e-10,3e-10,4e-10,5e-10,6e-10,7e-10,8e-10,9e-10,1e-9,2e-9,3e-9,4e-9,5e-9,6e-9,7e-9,8e-9,9e-9,1e-8,2e-8,3e-8,4e-8,5e-8,6e-8,7e-8,8e-8,9e-8,1e-7,2e-7,3e-7],
                "labelExpr": "abs(log(datum.value)/LN10 - round(log(datum.value)/LN10)) < 0.01 ? '10' + ['⁻¹⁰','⁻⁹','⁻⁸','⁻⁷','⁻⁶','⁻⁵','⁻⁴','⁻³','⁻²','⁻¹','⁰','¹','²','³','⁴','⁵'][round(log(datum.value)/LN10)+10] : ''",
                "tickSize": {"condition": {"test": "abs(log(datum.value)/LN10 - round(log(datum.value)/LN10)) < 0.01", "value": 6}, "value": 3.5}}},
            "y2": {"field": "hi"}
          }
        },
        {
          "data": {"name": "flare"},
          "mark": {"type": "area", "opacity": 1,
            "fill": {"gradient": "linear", "x1": 0, "y1": 0, "x2": 1.2066, "y2": 0.4721, "stops": [
{"offset":0,"color":"#34507f"},{"offset":0.0022,"color":"#34507f"},{"offset":0.0022,"color":"rgba(255,255,255,0)"},{"offset":0.01667,"color":"rgba(255,255,255,0)"},
{"offset":0.01667,"color":"#34507f"},{"offset":0.01887,"color":"#34507f"},{"offset":0.01887,"color":"rgba(255,255,255,0)"},{"offset":0.03333,"color":"rgba(255,255,255,0)"},
{"offset":0.03333,"color":"#34507f"},{"offset":0.03553,"color":"#34507f"},{"offset":0.03553,"color":"rgba(255,255,255,0)"},{"offset":0.05,"color":"rgba(255,255,255,0)"},
{"offset":0.05,"color":"#34507f"},{"offset":0.0522,"color":"#34507f"},{"offset":0.0522,"color":"rgba(255,255,255,0)"},{"offset":0.06667,"color":"rgba(255,255,255,0)"},
{"offset":0.06667,"color":"#34507f"},{"offset":0.06887,"color":"#34507f"},{"offset":0.06887,"color":"rgba(255,255,255,0)"},{"offset":0.08333,"color":"rgba(255,255,255,0)"},
{"offset":0.08333,"color":"#34507f"},{"offset":0.08553,"color":"#34507f"},{"offset":0.08553,"color":"rgba(255,255,255,0)"},{"offset":0.1,"color":"rgba(255,255,255,0)"},
{"offset":0.1,"color":"#34507f"},{"offset":0.1022,"color":"#34507f"},{"offset":0.1022,"color":"rgba(255,255,255,0)"},{"offset":0.11667,"color":"rgba(255,255,255,0)"},
{"offset":0.11667,"color":"#34507f"},{"offset":0.11887,"color":"#34507f"},{"offset":0.11887,"color":"rgba(255,255,255,0)"},{"offset":0.13333,"color":"rgba(255,255,255,0)"},
{"offset":0.13333,"color":"#34507f"},{"offset":0.13553,"color":"#34507f"},{"offset":0.13553,"color":"rgba(255,255,255,0)"},{"offset":0.15,"color":"rgba(255,255,255,0)"},
{"offset":0.15,"color":"#34507f"},{"offset":0.1522,"color":"#34507f"},{"offset":0.1522,"color":"rgba(255,255,255,0)"},{"offset":0.16667,"color":"rgba(255,255,255,0)"},
{"offset":0.16667,"color":"#34507f"},{"offset":0.16887,"color":"#34507f"},{"offset":0.16887,"color":"rgba(255,255,255,0)"},{"offset":0.18333,"color":"rgba(255,255,255,0)"},
{"offset":0.18333,"color":"#34507f"},{"offset":0.18553,"color":"#34507f"},{"offset":0.18553,"color":"rgba(255,255,255,0)"},{"offset":0.2,"color":"rgba(255,255,255,0)"},
{"offset":0.2,"color":"#34507f"},{"offset":0.2022,"color":"#34507f"},{"offset":0.2022,"color":"rgba(255,255,255,0)"},{"offset":0.21667,"color":"rgba(255,255,255,0)"},
{"offset":0.21667,"color":"#34507f"},{"offset":0.21887,"color":"#34507f"},{"offset":0.21887,"color":"rgba(255,255,255,0)"},{"offset":0.23333,"color":"rgba(255,255,255,0)"},
{"offset":0.23333,"color":"#34507f"},{"offset":0.23553,"color":"#34507f"},{"offset":0.23553,"color":"rgba(255,255,255,0)"},{"offset":0.25,"color":"rgba(255,255,255,0)"},
{"offset":0.25,"color":"#34507f"},{"offset":0.2522,"color":"#34507f"},{"offset":0.2522,"color":"rgba(255,255,255,0)"},{"offset":0.26667,"color":"rgba(255,255,255,0)"},
{"offset":0.26667,"color":"#34507f"},{"offset":0.26887,"color":"#34507f"},{"offset":0.26887,"color":"rgba(255,255,255,0)"},{"offset":0.28333,"color":"rgba(255,255,255,0)"},
{"offset":0.28333,"color":"#34507f"},{"offset":0.28553,"color":"#34507f"},{"offset":0.28553,"color":"rgba(255,255,255,0)"},{"offset":0.3,"color":"rgba(255,255,255,0)"},
{"offset":0.3,"color":"#34507f"},{"offset":0.3022,"color":"#34507f"},{"offset":0.3022,"color":"rgba(255,255,255,0)"},{"offset":0.31667,"color":"rgba(255,255,255,0)"},
{"offset":0.31667,"color":"#34507f"},{"offset":0.31887,"color":"#34507f"},{"offset":0.31887,"color":"rgba(255,255,255,0)"},{"offset":0.33333,"color":"rgba(255,255,255,0)"},
{"offset":0.33333,"color":"#34507f"},{"offset":0.33553,"color":"#34507f"},{"offset":0.33553,"color":"rgba(255,255,255,0)"},{"offset":0.35,"color":"rgba(255,255,255,0)"},
{"offset":0.35,"color":"#34507f"},{"offset":0.3522,"color":"#34507f"},{"offset":0.3522,"color":"rgba(255,255,255,0)"},{"offset":0.36667,"color":"rgba(255,255,255,0)"},
{"offset":0.36667,"color":"#34507f"},{"offset":0.36887,"color":"#34507f"},{"offset":0.36887,"color":"rgba(255,255,255,0)"},{"offset":0.38333,"color":"rgba(255,255,255,0)"},
{"offset":0.38333,"color":"#34507f"},{"offset":0.38553,"color":"#34507f"},{"offset":0.38553,"color":"rgba(255,255,255,0)"},{"offset":0.4,"color":"rgba(255,255,255,0)"},
{"offset":0.4,"color":"#34507f"},{"offset":0.4022,"color":"#34507f"},{"offset":0.4022,"color":"rgba(255,255,255,0)"},{"offset":0.41667,"color":"rgba(255,255,255,0)"},
{"offset":0.41667,"color":"#34507f"},{"offset":0.41887,"color":"#34507f"},{"offset":0.41887,"color":"rgba(255,255,255,0)"},{"offset":0.43333,"color":"rgba(255,255,255,0)"},
{"offset":0.43333,"color":"#34507f"},{"offset":0.43553,"color":"#34507f"},{"offset":0.43553,"color":"rgba(255,255,255,0)"},{"offset":0.45,"color":"rgba(255,255,255,0)"},
{"offset":0.45,"color":"#34507f"},{"offset":0.4522,"color":"#34507f"},{"offset":0.4522,"color":"rgba(255,255,255,0)"},{"offset":0.46667,"color":"rgba(255,255,255,0)"},
{"offset":0.46667,"color":"#34507f"},{"offset":0.46887,"color":"#34507f"},{"offset":0.46887,"color":"rgba(255,255,255,0)"},{"offset":0.48333,"color":"rgba(255,255,255,0)"},
{"offset":0.48333,"color":"#34507f"},{"offset":0.48553,"color":"#34507f"},{"offset":0.48553,"color":"rgba(255,255,255,0)"},{"offset":0.5,"color":"rgba(255,255,255,0)"},
{"offset":0.5,"color":"#34507f"},{"offset":0.5022,"color":"#34507f"},{"offset":0.5022,"color":"rgba(255,255,255,0)"},{"offset":0.51667,"color":"rgba(255,255,255,0)"},
{"offset":0.51667,"color":"#34507f"},{"offset":0.51887,"color":"#34507f"},{"offset":0.51887,"color":"rgba(255,255,255,0)"},{"offset":0.53333,"color":"rgba(255,255,255,0)"},
{"offset":0.53333,"color":"#34507f"},{"offset":0.53553,"color":"#34507f"},{"offset":0.53553,"color":"rgba(255,255,255,0)"},{"offset":0.55,"color":"rgba(255,255,255,0)"},
{"offset":0.55,"color":"#34507f"},{"offset":0.5522,"color":"#34507f"},{"offset":0.5522,"color":"rgba(255,255,255,0)"},{"offset":0.56667,"color":"rgba(255,255,255,0)"},
{"offset":0.56667,"color":"#34507f"},{"offset":0.56887,"color":"#34507f"},{"offset":0.56887,"color":"rgba(255,255,255,0)"},{"offset":0.58333,"color":"rgba(255,255,255,0)"},
{"offset":0.58333,"color":"#34507f"},{"offset":0.58553,"color":"#34507f"},{"offset":0.58553,"color":"rgba(255,255,255,0)"},{"offset":0.6,"color":"rgba(255,255,255,0)"},
{"offset":0.6,"color":"#34507f"},{"offset":0.6022,"color":"#34507f"},{"offset":0.6022,"color":"rgba(255,255,255,0)"},{"offset":0.61667,"color":"rgba(255,255,255,0)"},
{"offset":0.61667,"color":"#34507f"},{"offset":0.61887,"color":"#34507f"},{"offset":0.61887,"color":"rgba(255,255,255,0)"},{"offset":0.63333,"color":"rgba(255,255,255,0)"},
{"offset":0.63333,"color":"#34507f"},{"offset":0.63553,"color":"#34507f"},{"offset":0.63553,"color":"rgba(255,255,255,0)"},{"offset":0.65,"color":"rgba(255,255,255,0)"},
{"offset":0.65,"color":"#34507f"},{"offset":0.6522,"color":"#34507f"},{"offset":0.6522,"color":"rgba(255,255,255,0)"},{"offset":0.66667,"color":"rgba(255,255,255,0)"},
{"offset":0.66667,"color":"#34507f"},{"offset":0.66887,"color":"#34507f"},{"offset":0.66887,"color":"rgba(255,255,255,0)"},{"offset":0.68333,"color":"rgba(255,255,255,0)"},
{"offset":0.68333,"color":"#34507f"},{"offset":0.68553,"color":"#34507f"},{"offset":0.68553,"color":"rgba(255,255,255,0)"},{"offset":0.7,"color":"rgba(255,255,255,0)"},
{"offset":0.7,"color":"#34507f"},{"offset":0.7022,"color":"#34507f"},{"offset":0.7022,"color":"rgba(255,255,255,0)"},{"offset":0.71667,"color":"rgba(255,255,255,0)"},
{"offset":0.71667,"color":"#34507f"},{"offset":0.71887,"color":"#34507f"},{"offset":0.71887,"color":"rgba(255,255,255,0)"},{"offset":0.73333,"color":"rgba(255,255,255,0)"},
{"offset":0.73333,"color":"#34507f"},{"offset":0.73553,"color":"#34507f"},{"offset":0.73553,"color":"rgba(255,255,255,0)"},{"offset":0.75,"color":"rgba(255,255,255,0)"},
{"offset":0.75,"color":"#34507f"},{"offset":0.7522,"color":"#34507f"},{"offset":0.7522,"color":"rgba(255,255,255,0)"},{"offset":0.76667,"color":"rgba(255,255,255,0)"},
{"offset":0.76667,"color":"#34507f"},{"offset":0.76887,"color":"#34507f"},{"offset":0.76887,"color":"rgba(255,255,255,0)"},{"offset":0.78333,"color":"rgba(255,255,255,0)"},
{"offset":0.78333,"color":"#34507f"},{"offset":0.78553,"color":"#34507f"},{"offset":0.78553,"color":"rgba(255,255,255,0)"},{"offset":0.8,"color":"rgba(255,255,255,0)"},
{"offset":0.8,"color":"#34507f"},{"offset":0.8022,"color":"#34507f"},{"offset":0.8022,"color":"rgba(255,255,255,0)"},{"offset":0.81667,"color":"rgba(255,255,255,0)"},
{"offset":0.81667,"color":"#34507f"},{"offset":0.81887,"color":"#34507f"},{"offset":0.81887,"color":"rgba(255,255,255,0)"},{"offset":0.83333,"color":"rgba(255,255,255,0)"},
{"offset":0.83333,"color":"#34507f"},{"offset":0.83553,"color":"#34507f"},{"offset":0.83553,"color":"rgba(255,255,255,0)"},{"offset":0.85,"color":"rgba(255,255,255,0)"},
{"offset":0.85,"color":"#34507f"},{"offset":0.8522,"color":"#34507f"},{"offset":0.8522,"color":"rgba(255,255,255,0)"},{"offset":0.86667,"color":"rgba(255,255,255,0)"},
{"offset":0.86667,"color":"#34507f"},{"offset":0.86887,"color":"#34507f"},{"offset":0.86887,"color":"rgba(255,255,255,0)"},{"offset":0.88333,"color":"rgba(255,255,255,0)"},
{"offset":0.88333,"color":"#34507f"},{"offset":0.88553,"color":"#34507f"},{"offset":0.88553,"color":"rgba(255,255,255,0)"},{"offset":0.9,"color":"rgba(255,255,255,0)"},
{"offset":0.9,"color":"#34507f"},{"offset":0.9022,"color":"#34507f"},{"offset":0.9022,"color":"rgba(255,255,255,0)"},{"offset":0.91667,"color":"rgba(255,255,255,0)"},
{"offset":0.91667,"color":"#34507f"},{"offset":0.91887,"color":"#34507f"},{"offset":0.91887,"color":"rgba(255,255,255,0)"},{"offset":0.93333,"color":"rgba(255,255,255,0)"},
{"offset":0.93333,"color":"#34507f"},{"offset":0.93553,"color":"#34507f"},{"offset":0.93553,"color":"rgba(255,255,255,0)"},{"offset":0.95,"color":"rgba(255,255,255,0)"},
{"offset":0.95,"color":"#34507f"},{"offset":0.9522,"color":"#34507f"},{"offset":0.9522,"color":"rgba(255,255,255,0)"},{"offset":0.96667,"color":"rgba(255,255,255,0)"},
{"offset":0.96667,"color":"#34507f"},{"offset":0.96887,"color":"#34507f"},{"offset":0.96887,"color":"rgba(255,255,255,0)"},{"offset":0.98333,"color":"rgba(255,255,255,0)"},
{"offset":0.98333,"color":"#34507f"},{"offset":0.98553,"color":"#34507f"},{"offset":0.98553,"color":"rgba(255,255,255,0)"},{"offset":1,"color":"rgba(255,255,255,0)"}
            ]}},
          "encoding": {"x": {"field": "E", "type": "quantitative"}, "y": {"field": "lo", "type": "quantitative"}, "y2": {"field": "hi"}}
        },
        {
          "data": {"name": "astro"},
          "mark": {"type": "area", "fill": "#ff3b3b", "opacity": 0.7},
          "encoding": {"x": {"field": "E", "type": "quantitative"}, "y": {"field": "lo", "type": "quantitative"}, "y2": {"field": "hi"}}
        },
        {
          "data": {"name": "fhl"},
          "mark": {"type": "area", "fill": "#20d9a6", "opacity": 0.75},
          "encoding": {"x": {"field": "E", "type": "quantitative"}, "y": {"field": "lo", "type": "quantitative"}, "y2": {"field": "hi"}}
        },
        {
          "data": {"name": "fhlarrows"},
          "mark": {"type": "rule", "color": "#72dcc0", "strokeWidth": 1.6},
          "encoding": {"x": {"field": "E", "type": "quantitative"}, "y": {"field": "from", "type": "quantitative"}, "y2": {"field": "to"}}
        },
        {
          "data": {"name": "fhlarrows"},
          "mark": {"type": "point", "shape": "triangle-down", "filled": true, "color": "#72dcc0", "size": 45, "opacity": 1, "yOffset": -2},
          "encoding": {"x": {"field": "E", "type": "quantitative"}, "y": {"field": "to", "type": "quantitative"}}
        },
        {
          "data": {"name": "txs8"},
          "mark": {"type": "line", "color": "#1a3a6a", "strokeDash": [6, 4], "strokeWidth": 1.5},
          "encoding": {"x": {"field": "E", "type": "quantitative"}, "y": {"field": "mid", "type": "quantitative"}}
        },
        {
          "data": {"name": "flare"},
          "transform": [{"filter": "isValid(datum.mid)"}],
          "mark": {"type": "line", "color": "#1f3b6f", "strokeDash": [6, 4], "strokeWidth": 1.5},
          "encoding": {"x": {"field": "E", "type": "quantitative"}, "y": {"field": "mid", "type": "quantitative"}}
        },
        {
          "data": {"name": "astro"},
          "mark": {"type": "line", "color": "#cc1f1f", "strokeDash": [7, 4], "strokeWidth": 1.8},
          "encoding": {"x": {"field": "E", "type": "quantitative"}, "y": {"field": "mid", "type": "quantitative"}}
        },
        {
          "data": {"name": "fhl"},
          "mark": {"type": "line", "color": "#1e9c7c", "strokeDash": [6, 4], "strokeWidth": 1.5},
          "encoding": {"x": {"field": "E", "type": "quantitative"}, "y": {"field": "mid", "type": "quantitative"}}
        },
        {
          "data": {"name": "hese"},
          "mark": {"type": "rule", "color": "black", "strokeWidth": 2},
          "encoding": {"x": {"field": "E", "type": "quantitative"}, "y": {"field": "Flo", "type": "quantitative"}, "y2": {"field": "Fhi"}}
        },
        {
          "data": {"name": "hese"},
          "mark": {"type": "rule", "color": "black", "strokeWidth": 2.2},
          "encoding": {"x": {"field": "Elo", "type": "quantitative"}, "x2": {"field": "Ehi"}, "y": {"field": "F", "type": "quantitative"}}
        },
        {
          "data": {"name": "hese"},
          "mark": {"type": "point", "shape": "circle", "filled": true, "color": "black", "size": 55, "opacity": 1},
          "encoding": {"x": {"field": "E", "type": "quantitative"}, "y": {"field": "F", "type": "quantitative"}}
        },
        {
          "data": {"name": "hese"},
          "transform": [{"filter": "datum.ul"}],
          "mark": {"type": "point", "shape": "triangle-down", "filled": true, "color": "black", "size": 55, "opacity": 1, "yOffset": -3},
          "encoding": {"x": {"field": "E", "type": "quantitative"}, "y": {"field": "Flo", "type": "quantitative"}}
        },
        {
          "data": {"name": "wmR"},
          "mark": {"type": "text", "align": "left", "baseline": "middle", "font": "DejaVu Serif", "fontSize": 27, "color": "#f26b6b"},
          "encoding": {"x": {"field": "E", "type": "quantitative"}, "y": {"field": "F", "type": "quantitative"}, "text": {"field": "t"}}
        },
        {
          "data": {"name": "leg"},
          "mark": {"type": "rect", "fill": "transparent", "stroke": "#1a1a1a", "strokeWidth": 1.6},
          "encoding": {"x": {"datum": 3.38, "type": "quantitative"}, "x2": {"datum": 10380}, "y": {"datum": 4.97e-11, "type": "quantitative"}, "y2": {"datum": 3.04e-7}}
        },
        {
          "data": {"name": "leg"},
          "transform": [{"filter": "false"}],
          "mark": {"type": "point", "filled": true, "opacity": 1, "size": 3600},
          "encoding": {
            "color": {"field": "k", "type": "nominal",
              "scale": {"domain": ["Astrophysical νμ + ν̄μ flux", "TXS 0506+056, 158 day flare", "TXS 0506+056, 8 year average", "3FHL blazars,", "8 year average (this work)", "HESE unfolding"],
                "range": ["#ff7676", "#cdd5e3", "#6e99cc", "#58e3bc", "rgba(0,0,0,0)", "black"]},
              "legend": {"title": null, "orient": "none", "legendX": 919, "legendY": 3, "columns": 2, "clipHeight": 20, "symbolSize": 3600, "symbolStrokeWidth": 0, "symbolOffset": 0, "labelOffset": 14, "labelFont": "DejaVu Serif", "labelFontSize": 21.5, "labelColor": "#333333", "labelLimit": 500, "rowPadding": 12.5, "columnPadding": 68, "padding": 9, "strokeColor": "#d0d0d0", "fillColor": "white", "cornerRadius": 5}},
            "shape": {"field": "k", "type": "nominal",
              "scale": {"domain": ["Astrophysical νμ + ν̄μ flux", "TXS 0506+056, 158 day flare", "TXS 0506+056, 8 year average", "3FHL blazars,", "8 year average (this work)", "HESE unfolding"],
                "range": ["M-1,-0.25H1V0.25H-1Z", "M-1,-0.25H1V0.25H-1Z", "M-1,-0.25H1V0.25H-1Z", "M-1,-0.25H1V0.25H-1Z", "M-1,-0.25H1V0.25H-1Z", "M-0.33,-0.035H0.33V0.035H-0.33Z M-0.035,-0.3H0.035V0.3H-0.035Z M-0.12,0L-0.085,-0.085L0,-0.12L0.085,-0.085L0.12,0L0.085,0.085L0,0.12L-0.085,0.085Z"]},
              "legend": {"title": null, "orient": "none", "legendX": 919, "legendY": 3, "columns": 2, "clipHeight": 20, "symbolSize": 3600, "symbolStrokeWidth": 0, "symbolOffset": 0, "labelOffset": 14, "labelFont": "DejaVu Serif", "labelFontSize": 21.5, "labelColor": "#333333", "labelLimit": 500, "rowPadding": 12.5, "columnPadding": 68, "padding": 9, "strokeColor": "#d0d0d0", "fillColor": "white", "cornerRadius": 5}}
          }
        }
      ]
    }
  ]
}
